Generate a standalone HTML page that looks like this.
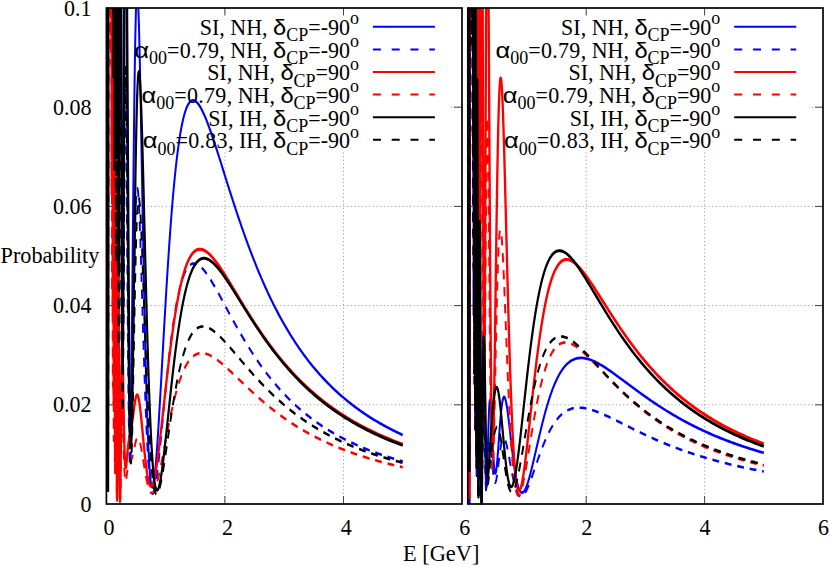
<!DOCTYPE html>
<html><head><meta charset="utf-8"><title>Probability</title>
<style>html,body{margin:0;padding:0;background:#fff}svg{display:block}</style></head>
<body>
<svg width="830" height="567" viewBox="0 0 830 567">
<style>
text{font-family:"Liberation Serif",serif;font-size:22px;fill:#000}
.gk{font-family:"Liberation Sans",sans-serif;font-size:20.8px;stroke:#000;stroke-width:.05px}
.sb{font-size:18px}
.sp{font-size:18px}
.ga{font-family:"Liberation Sans",sans-serif;font-size:20.6px;stroke:#000;stroke-width:.04px}
.g{stroke:#a0a0a0;stroke-width:1;stroke-dasharray:1.2 2.5}
.t{stroke:#444;stroke-width:1}
</style>
<rect width="830" height="567" fill="#fff"/>
<text x="91.5" y="478.13" transform="scale(1 1.07)" text-anchor="end">0</text>
<text x="91.5" y="385.42" transform="scale(1 1.07)" text-anchor="end">0.02</text>
<text x="91.5" y="292.71" transform="scale(1 1.07)" text-anchor="end">0.04</text>
<text x="91.5" y="200.00" transform="scale(1 1.07)" text-anchor="end">0.06</text>
<text x="91.5" y="107.29" transform="scale(1 1.07)" text-anchor="end">0.08</text>
<text x="91.5" y="14.58" transform="scale(1 1.07)" text-anchor="end">0.1</text>
<text x="109.1" y="499.91" transform="scale(1 1.07)" text-anchor="middle">0</text>
<text x="227.6" y="499.91" transform="scale(1 1.07)" text-anchor="middle">2</text>
<text x="346.2" y="499.91" transform="scale(1 1.07)" text-anchor="middle">4</text>
<text x="464.7" y="499.91" transform="scale(1 1.07)" text-anchor="middle">6</text>
<text x="586.7" y="499.91" transform="scale(1 1.07)" text-anchor="middle">2</text>
<text x="705.1" y="499.91" transform="scale(1 1.07)" text-anchor="middle">4</text>
<text x="823.5" y="499.91" transform="scale(1 1.07)" text-anchor="middle">6</text>
<text x="0.6" y="246.26" transform="scale(1 1.07)" style="font-size:22.2px">Probability</text>
<text x="402.9" y="524.58" transform="scale(1 1.07)" style="font-size:22.4px">E [GeV]</text>
<line x1="224.9" y1="8.0" x2="224.9" y2="504.0" class="g"/>
<line x1="343.5" y1="8.0" x2="343.5" y2="504.0" class="g"/>
<line x1="106.4" y1="404.8" x2="462.0" y2="404.8" class="g"/>
<line x1="106.4" y1="305.6" x2="462.0" y2="305.6" class="g"/>
<line x1="106.4" y1="206.4" x2="462.0" y2="206.4" class="g"/>
<line x1="106.4" y1="107.2" x2="462.0" y2="107.2" class="g"/>
<line x1="224.9" y1="504.0" x2="224.9" y2="496.0" class="t"/>
<line x1="224.9" y1="8.0" x2="224.9" y2="16.0" class="t"/>
<line x1="343.5" y1="504.0" x2="343.5" y2="496.0" class="t"/>
<line x1="343.5" y1="8.0" x2="343.5" y2="16.0" class="t"/>
<line x1="106.4" y1="404.8" x2="114.4" y2="404.8" class="t"/>
<line x1="462.0" y1="404.8" x2="454.0" y2="404.8" class="t"/>
<line x1="106.4" y1="305.6" x2="114.4" y2="305.6" class="t"/>
<line x1="462.0" y1="305.6" x2="454.0" y2="305.6" class="t"/>
<line x1="106.4" y1="206.4" x2="114.4" y2="206.4" class="t"/>
<line x1="462.0" y1="206.4" x2="454.0" y2="206.4" class="t"/>
<line x1="106.4" y1="107.2" x2="114.4" y2="107.2" class="t"/>
<line x1="462.0" y1="107.2" x2="454.0" y2="107.2" class="t"/>
<rect x="106.4" y="15.5" width="341.6" height="135.7" fill="#fff"/>
<line x1="586.2" y1="8.0" x2="586.2" y2="504.0" class="g"/>
<line x1="704.6" y1="8.0" x2="704.6" y2="504.0" class="g"/>
<line x1="467.8" y1="404.8" x2="823.0" y2="404.8" class="g"/>
<line x1="467.8" y1="305.6" x2="823.0" y2="305.6" class="g"/>
<line x1="467.8" y1="206.4" x2="823.0" y2="206.4" class="g"/>
<line x1="467.8" y1="107.2" x2="823.0" y2="107.2" class="g"/>
<line x1="586.2" y1="504.0" x2="586.2" y2="496.0" class="t"/>
<line x1="586.2" y1="8.0" x2="586.2" y2="16.0" class="t"/>
<line x1="704.6" y1="504.0" x2="704.6" y2="496.0" class="t"/>
<line x1="704.6" y1="8.0" x2="704.6" y2="16.0" class="t"/>
<line x1="467.8" y1="404.8" x2="475.8" y2="404.8" class="t"/>
<line x1="823.0" y1="404.8" x2="815.0" y2="404.8" class="t"/>
<line x1="467.8" y1="305.6" x2="475.8" y2="305.6" class="t"/>
<line x1="823.0" y1="305.6" x2="815.0" y2="305.6" class="t"/>
<line x1="467.8" y1="206.4" x2="475.8" y2="206.4" class="t"/>
<line x1="823.0" y1="206.4" x2="815.0" y2="206.4" class="t"/>
<line x1="467.8" y1="107.2" x2="475.8" y2="107.2" class="t"/>
<line x1="823.0" y1="107.2" x2="815.0" y2="107.2" class="t"/>
<rect x="467.8" y="15.5" width="341.2" height="135.7" fill="#fff"/>
<g>
<path d="M108.00,364.15L108.18,232.29L108.22,5.93M114.34,5.93L114.34,10.25L114.37,5.93M115.72,5.93L115.76,42.07L115.88,101.68L116.00,110.91L116.12,73.84L116.23,5.93M117.78,5.93L117.90,77.20L118.02,134.72L118.13,174.75L118.25,196.15L118.37,199.13L118.49,185.06L118.61,156.23L118.73,115.54L118.85,66.29L118.96,11.93L118.98,5.93M121.02,5.93L121.10,36.60L121.22,79.22L121.34,119.05L121.45,155.25L121.57,187.19L121.69,214.37L121.81,236.45L121.93,253.26L122.05,264.76L122.16,271.01L122.28,272.22L122.40,268.66L122.52,260.70L122.64,248.75L122.76,233.29L122.88,214.81L122.99,193.83L123.11,170.86L123.23,146.44L123.35,121.05L123.47,95.19L123.59,69.30L123.71,43.81L123.82,19.09L123.89,5.93M126.71,5.93L126.79,18.15L126.91,36.38L127.02,54.79L127.14,73.26L127.26,91.65L127.38,109.84L127.50,127.74L127.62,145.22L127.74,162.21L127.85,178.62L127.97,194.37L128.09,209.39L128.21,223.64L128.33,237.05L128.45,249.59L128.57,261.23L128.68,271.94L128.80,281.69L128.92,290.48L129.04,298.30L129.16,305.15L129.28,311.03L129.40,315.96L129.51,319.94L129.63,322.99L129.75,325.14L129.87,326.42L129.99,326.84L130.11,326.44L130.23,325.26L130.34,323.33L130.46,320.68L130.58,317.35L130.70,313.38L130.82,308.82L130.94,303.69L131.05,298.05L131.17,291.92L131.29,285.36L131.41,278.40L131.53,271.08L131.65,263.43L131.77,255.51L131.88,247.34L132.00,238.96L132.12,230.41L132.24,221.71L132.36,212.91L132.48,204.04L132.60,195.12L132.71,186.18L132.83,177.26L132.95,168.37L133.07,159.55L133.19,150.82L133.31,142.19L133.43,133.70L133.54,125.35L133.66,117.17L133.78,109.18L133.90,101.39L134.02,93.81L134.14,86.46L134.26,79.35L134.37,72.49L134.49,65.89L134.61,59.56L134.73,53.51L134.85,47.73L134.97,42.25L135.09,37.05L135.20,32.15L135.32,27.55L135.44,23.25L135.56,19.26L135.68,15.56L135.80,12.17L135.91,9.07L136.03,6.28L136.05,5.93M138.35,5.93L138.40,6.97L138.52,9.38L138.64,11.98L138.76,14.75L138.88,17.68L139.00,20.76L139.12,23.99L139.23,27.37L139.35,30.88L139.47,34.52L139.59,38.27L139.71,42.14L139.83,46.12L139.94,50.20L140.06,54.38L140.18,58.64L140.30,62.98L140.42,67.40L140.54,71.89L140.66,76.44L140.77,81.04L140.89,85.70L141.01,90.41L141.13,95.16L141.25,99.94L141.37,104.75L141.49,109.59L141.60,114.45L141.72,119.32L141.84,124.21L141.96,129.10L142.08,134.00L142.20,138.89L142.32,143.78L142.43,148.66L142.55,153.53L142.67,158.38L142.79,163.21L142.91,168.02L143.03,172.80L143.15,177.55L143.26,182.27L143.38,186.96L143.50,191.60L143.62,196.21L143.74,200.77L143.86,205.29L143.98,209.76L144.09,214.18L144.21,218.55L144.33,222.87L144.45,227.13L144.57,231.34L144.69,235.49L144.80,239.58L144.92,243.60L145.04,247.57L145.16,251.47L145.28,255.30L145.40,259.08L145.52,262.78L145.63,266.42L145.75,269.99L145.87,273.49L145.99,276.92L146.11,280.28L146.23,283.57L146.35,286.79L146.46,289.93L146.58,293.01L146.70,296.01L146.82,298.95L146.94,301.81L147.06,304.59L147.18,307.31L147.29,309.95L147.41,312.52L147.53,315.02L147.65,317.45L147.77,319.80L147.89,322.09L148.01,324.30L148.12,326.44L148.24,328.51L148.36,330.51L148.48,332.44L148.60,334.30L148.72,336.09L148.83,337.82L148.95,339.47L149.07,341.06L149.19,342.59L149.31,344.04L149.43,345.43L149.55,346.76L149.66,348.02L149.78,349.22L149.90,350.35L150.02,351.42L150.14,352.43L150.26,353.38L150.38,354.27L150.49,355.10L150.61,355.87L150.73,356.59L150.85,357.24L150.97,357.85L151.09,358.39L151.21,358.88L151.32,359.32L151.44,359.70L151.56,360.03L151.68,360.31L151.80,360.54L151.92,360.72L152.04,360.85L152.15,360.93L152.27,360.96L152.39,360.95L152.51,360.89L152.63,360.79L152.75,360.64L152.87,360.45L152.98,360.22L153.10,359.94L153.22,359.63L153.34,359.27L153.46,358.87L153.58,358.44L153.69,357.97L153.81,357.46L153.93,356.91L154.05,356.33L154.17,355.71L154.29,355.06L154.41,354.38L154.52,353.66L154.64,352.92L154.76,352.14L154.88,351.33L155.00,350.49L155.12,349.62L155.24,348.73L155.35,347.80L155.47,346.86L155.59,345.88L155.71,344.88L155.83,343.85L155.95,342.80L156.07,341.73L156.18,340.63L156.30,339.51L156.42,338.37L156.54,337.21L156.66,336.03L156.78,334.83L156.90,333.61L157.01,332.37L157.13,331.12L157.25,329.84L157.37,328.55L157.49,327.25L157.61,325.92L157.72,324.59L157.84,323.24L157.96,321.87L158.08,320.49L158.20,319.10L158.32,317.69L158.44,316.28L158.55,314.85L158.67,313.41L158.79,311.96L158.91,310.50L159.03,309.03L159.15,307.55L159.27,306.06L159.38,304.56L159.50,303.06L159.62,301.55L159.74,300.03L160.93,285.11L162.11,269.40L163.30,253.68L164.48,238.19L165.67,223.12L166.85,208.61L168.04,194.76L169.22,181.67L170.41,169.38L171.59,157.92L172.78,147.31L173.96,137.54L175.15,128.61L176.33,120.50L177.52,113.18L178.71,106.62L179.89,100.79L181.08,95.65L182.26,91.16L183.45,87.30L184.63,84.01L185.82,81.27L187.00,79.04L188.19,77.27L189.37,75.95L190.56,75.03L191.74,74.49L192.93,74.29L194.11,74.42L195.30,74.83L196.49,75.51L197.67,76.44L198.86,77.59L200.04,78.94L201.23,80.48L202.41,82.18L203.60,84.03L204.78,86.02L205.97,88.13L207.15,90.34L208.34,92.65L209.52,95.05L210.71,97.52L211.89,100.05L213.08,102.64L214.27,105.28L215.45,107.96L216.64,110.67L217.82,113.41L219.01,116.17L220.19,118.94L221.38,121.73L222.56,124.53L223.75,127.32L224.93,130.12L226.12,132.91L227.30,135.70L228.49,138.47L229.67,141.23L230.86,143.98L232.05,146.71L233.23,149.43L234.42,152.12L235.60,154.79L236.79,157.44L237.97,160.06L239.16,162.66L240.34,165.23L241.53,167.78L242.71,170.29L243.90,172.78L245.08,175.24L246.27,177.68L247.45,180.08L248.64,182.45L249.83,184.80L251.01,187.11L252.20,189.40L253.38,191.65L254.57,193.87L255.75,196.07L256.94,198.23L258.12,200.37L259.31,202.47L260.49,204.55L261.68,206.59L262.86,208.61L264.05,210.60L265.23,212.56L266.42,214.49L267.61,216.39L268.79,218.27L269.98,220.11L271.16,221.94L272.35,223.73L273.53,225.50L274.72,227.24L275.90,228.96L277.09,230.65L278.27,232.31L279.46,233.95L280.64,235.57L281.83,237.16L283.01,238.73L284.20,240.27L285.39,241.79L286.57,243.29L287.76,244.77L288.94,246.23L290.13,247.66L291.31,249.07L292.50,250.46L293.68,251.83L294.87,253.18L296.05,254.51L297.24,255.82L298.42,257.11L299.61,258.39L300.79,259.64L301.98,260.87L303.17,262.09L304.35,263.29L305.54,264.47L306.72,265.64L307.91,266.78L309.09,267.91L310.28,269.03L311.46,270.13L312.65,271.21L313.83,272.28L315.02,273.33L316.20,274.36L317.39,275.39L318.57,276.39L319.76,277.39L320.95,278.36L322.13,279.33L323.32,280.28L324.50,281.22L325.69,282.14L326.87,283.06L328.06,283.96L329.24,284.84L330.43,285.72L331.61,286.58L332.80,287.43L333.98,288.27L335.17,289.10L336.35,289.91L337.54,290.72L338.73,291.51L339.91,292.29L341.10,293.07L342.28,293.83L343.47,294.58L344.65,295.32L345.84,296.06L347.02,296.78L348.21,297.49L349.39,298.20L350.58,298.89L351.76,299.58L352.95,300.25L354.13,300.92L355.32,301.58L356.51,302.23L357.69,302.87L358.88,303.51L360.06,304.13L361.25,304.75L362.43,305.36L363.62,305.96L364.80,306.56L365.99,307.14L367.17,307.72L368.36,308.29L369.54,308.86L370.73,309.42L371.91,309.97L373.10,310.51L374.29,311.05L375.47,311.58L376.66,312.11L377.84,312.63L379.03,313.14L380.21,313.64L381.40,314.14L382.58,314.64L383.77,315.13L384.95,315.61L386.14,316.08L387.32,316.55L388.51,317.02L389.69,317.48L390.88,317.93L392.07,318.38L393.25,318.83L394.44,319.26L395.62,319.70L396.81,320.13L397.99,320.55L399.18,320.97L400.36,321.38L401.55,321.79L402.73,322.19" fill="none" stroke="#0000ff" stroke-width="2.00" stroke-linejoin="round" transform="scale(1 1.35)"/>
<text x="359.0" y="32.71" transform="scale(1 1.07)" text-anchor="end" class="lt">SI, NH, <tspan class="gk" textLength="13.2" lengthAdjust="spacingAndGlyphs">δ</tspan><tspan class="sb" dy="6.07">CP</tspan><tspan dy="-6.07">=-90</tspan><tspan class="sp" dy="-9.91">o</tspan></text><line x1="372.9" y1="26.8" x2="434.9" y2="26.8" stroke="#0000ff" stroke-width="2"/>
<path d="M108.00,364.15L108.18,292.22L108.27,5.93M113.13,5.93L113.16,40.54L113.27,83.59L113.38,5.93M114.15,5.93L114.22,81.78L114.34,145.25L114.46,138.67L114.58,72.99L114.66,5.93M115.53,5.93L115.65,91.81L115.76,160.48L115.88,201.20L116.00,210.81L116.12,191.28L116.24,148.46L116.36,90.69L116.48,27.20L116.52,5.93M117.49,5.93L117.54,27.70L117.66,82.48L117.78,134.78L117.90,181.04L118.02,218.55L118.13,245.52L118.25,261.09L118.37,265.21L118.49,258.62L118.61,242.59L118.73,218.86L118.85,189.41L118.96,156.33L119.08,121.71L119.20,87.49L119.32,55.42L119.44,26.94L119.54,5.93M120.41,5.93L120.51,22.74L120.62,46.36L120.74,72.25L120.86,99.55L120.98,127.42L121.10,155.10L121.22,181.85L121.34,207.08L121.45,230.23L121.57,250.89L121.69,268.72L121.81,283.48L121.93,295.03L122.05,303.33L122.16,308.39L122.28,310.30L122.40,309.21L122.52,305.34L122.64,298.93L122.76,290.24L122.88,279.58L122.99,267.26L123.11,253.59L123.23,238.89L123.35,223.48L123.47,207.65L123.59,191.69L123.71,175.86L123.82,160.40L123.94,145.54L124.06,131.46L124.18,118.34L124.30,106.33L124.42,95.53L124.54,86.05L124.65,77.94L124.77,71.27L124.89,66.06L125.01,62.30L125.13,60.00L125.25,59.11L125.37,59.61L125.48,61.43L125.60,64.52L125.72,68.79L125.84,74.16L125.96,80.55L126.08,87.86L126.20,96.01L126.31,104.88L126.43,114.39L126.55,124.43L126.67,134.92L126.79,145.75L126.91,156.84L127.02,168.09L127.14,179.43L127.26,190.77L127.38,202.04L127.50,213.17L127.62,224.10L127.74,234.76L127.85,245.10L127.97,255.07L128.09,264.63L128.21,273.74L128.33,282.37L128.45,290.48L128.57,298.06L128.68,305.08L128.80,311.54L128.92,317.41L129.04,322.69L129.16,327.39L129.28,331.49L129.40,335.01L129.51,337.95L129.63,340.31L129.75,342.12L129.87,343.38L129.99,344.11L130.11,344.32L130.23,344.04L130.34,343.28L130.46,342.08L130.58,340.43L130.70,338.38L130.82,335.95L130.94,333.15L131.05,330.01L131.17,326.56L131.29,322.83L131.41,318.82L131.53,314.58L131.65,310.11L131.77,305.46L131.88,300.63L132.00,295.65L132.12,290.55L132.24,285.34L132.36,280.04L132.48,274.68L132.60,269.27L132.71,263.83L132.83,258.38L132.95,252.94L133.07,247.52L133.19,242.14L133.31,236.80L133.43,231.53L133.54,226.34L133.66,221.24L133.78,216.23L133.90,211.34L134.02,206.57L134.14,201.92L134.26,197.41L134.37,193.04L134.49,188.82L134.61,184.76L134.73,180.86L134.85,177.12L134.97,173.56L135.09,170.16L135.20,166.94L135.32,163.90L135.44,161.04L135.56,158.36L135.68,155.86L135.80,153.54L135.91,151.41L136.03,149.45L136.15,147.68L136.27,146.08L136.39,144.67L136.51,143.43L136.63,142.36L136.74,141.47L136.86,140.74L136.98,140.19L137.10,139.79L137.22,139.56L137.34,139.48L137.46,139.56L137.57,139.78L137.69,140.15L137.81,140.67L137.93,141.32L138.05,142.11L138.17,143.03L138.29,144.07L138.40,145.24L138.52,146.53L138.64,147.92L138.76,149.43L138.88,151.04L139.00,152.75L139.12,154.56L139.23,156.46L139.35,158.45L139.47,160.53L139.59,162.68L139.71,164.91L139.83,167.20L139.94,169.57L140.06,172.00L140.18,174.49L140.30,177.03L140.42,179.63L140.54,182.27L140.66,184.96L140.77,187.69L140.89,190.46L141.01,193.26L141.13,196.09L141.25,198.95L141.37,201.83L141.49,204.73L141.60,207.66L141.72,210.59L141.84,213.54L141.96,216.50L142.08,219.46L142.20,222.43L142.32,225.40L142.43,228.37L142.55,231.34L142.67,234.30L142.79,237.26L142.91,240.20L143.03,243.13L143.15,246.05L143.26,248.96L143.38,251.84L143.50,254.71L143.62,257.56L143.74,260.38L143.86,263.18L143.98,265.95L144.09,268.70L144.21,271.42L144.33,274.11L144.45,276.77L144.57,279.40L144.69,282.00L144.80,284.56L144.92,287.09L145.04,289.58L145.16,292.04L145.28,294.46L145.40,296.84L145.52,299.19L145.63,301.49L145.75,303.76L145.87,305.98L145.99,308.17L146.11,310.32L146.23,312.42L146.35,314.48L146.46,316.50L146.58,318.48L146.70,320.41L146.82,322.31L146.94,324.16L147.06,325.96L147.18,327.73L147.29,329.45L147.41,331.13L147.53,332.76L147.65,334.36L147.77,335.91L147.89,337.41L148.01,338.88L148.12,340.30L148.24,341.68L148.36,343.01L148.48,344.31L148.60,345.56L148.72,346.77L148.83,347.94L148.95,349.07L149.07,350.16L149.19,351.21L149.31,352.21L149.43,353.18L149.55,354.11L149.66,354.99L149.78,355.84L149.90,356.65L150.02,357.43L150.14,358.16L150.26,358.86L150.38,359.52L150.49,360.14L150.61,360.73L150.73,361.28L150.85,361.80L150.97,362.28L151.09,362.73L151.21,363.15L151.32,363.53L151.44,363.87L151.56,364.19L151.68,364.47L151.80,364.72L151.92,364.95L152.04,365.14L152.15,365.30L152.27,365.43L152.39,365.53L152.51,365.60L152.63,365.65L152.75,365.66L152.87,365.65L152.98,365.61L153.10,365.55L153.22,365.46L153.34,365.35L153.46,365.21L153.58,365.04L153.69,364.85L153.81,364.64L153.93,364.41L154.05,364.15L154.17,363.87L154.29,363.57L154.41,363.25L154.52,362.91L154.64,362.54L154.76,362.16L154.88,361.76L155.00,361.34L155.12,360.90L155.24,360.44L155.35,359.96L155.47,359.47L155.59,358.96L155.71,358.43L155.83,357.89L155.95,357.33L156.07,356.76L156.18,356.17L156.30,355.56L156.42,354.95L156.54,354.32L156.66,353.67L156.78,353.02L156.90,352.35L157.01,351.66L157.13,350.97L157.25,350.26L157.37,349.55L157.49,348.82L157.61,348.08L157.72,347.33L157.84,346.57L157.96,345.81L158.08,345.03L158.20,344.24L158.32,343.45L158.44,342.65L158.55,341.84L158.67,341.02L158.79,340.19L158.91,339.36L159.03,338.52L159.15,337.67L159.27,336.82L159.38,335.96L159.50,335.10L159.62,334.23L159.74,333.35L160.93,324.86L162.11,315.69L163.30,306.44L164.48,297.26L165.67,288.27L166.85,279.57L168.04,271.22L169.22,263.29L170.41,255.81L171.59,248.80L172.78,242.28L173.96,236.26L175.15,230.71L176.33,225.65L177.52,221.06L178.71,216.92L179.89,213.22L181.08,209.93L182.26,207.03L183.45,204.50L184.63,202.33L185.82,200.48L187.00,198.95L188.19,197.70L189.37,196.72L190.56,195.99L191.74,195.49L192.93,195.21L194.11,195.12L195.30,195.21L196.49,195.47L197.67,195.89L198.86,196.44L200.04,197.12L201.23,197.91L202.41,198.82L203.60,199.81L204.78,200.90L205.97,202.06L207.15,203.29L208.34,204.58L209.52,205.93L210.71,207.33L211.89,208.77L213.08,210.25L214.27,211.76L215.45,213.30L216.64,214.86L217.82,216.44L219.01,218.04L220.19,219.66L221.38,221.28L222.56,222.91L223.75,224.54L224.93,226.18L226.12,227.81L227.30,229.45L228.49,231.08L229.67,232.70L230.86,234.32L232.05,235.93L233.23,237.53L234.42,239.13L235.60,240.71L236.79,242.27L237.97,243.83L239.16,245.37L240.34,246.90L241.53,248.41L242.71,249.91L243.90,251.39L245.08,252.86L246.27,254.31L247.45,255.74L248.64,257.15L249.83,258.55L251.01,259.94L252.20,261.30L253.38,262.65L254.57,263.98L255.75,265.29L256.94,266.59L258.12,267.87L259.31,269.13L260.49,270.38L261.68,271.61L262.86,272.82L264.05,274.01L265.23,275.19L266.42,276.35L267.61,277.49L268.79,278.62L269.98,279.73L271.16,280.83L272.35,281.91L273.53,282.98L274.72,284.03L275.90,285.06L277.09,286.08L278.27,287.09L279.46,288.08L280.64,289.05L281.83,290.01L283.01,290.96L284.20,291.89L285.39,292.81L286.57,293.72L287.76,294.61L288.94,295.49L290.13,296.36L291.31,297.22L292.50,298.06L293.68,298.89L294.87,299.71L296.05,300.51L297.24,301.31L298.42,302.09L299.61,302.86L300.79,303.62L301.98,304.37L303.17,305.11L304.35,305.83L305.54,306.55L306.72,307.26L307.91,307.95L309.09,308.64L310.28,309.32L311.46,309.98L312.65,310.64L313.83,311.29L315.02,311.93L316.20,312.56L317.39,313.18L318.57,313.79L319.76,314.40L320.95,314.99L322.13,315.58L323.32,316.16L324.50,316.73L325.69,317.29L326.87,317.85L328.06,318.40L329.24,318.94L330.43,319.47L331.61,320.00L332.80,320.51L333.98,321.02L335.17,321.53L336.35,322.03L337.54,322.52L338.73,323.00L339.91,323.48L341.10,323.95L342.28,324.42L343.47,324.88L344.65,325.33L345.84,325.77L347.02,326.22L348.21,326.65L349.39,327.08L350.58,327.50L351.76,327.92L352.95,328.34L354.13,328.74L355.32,329.15L356.51,329.54L357.69,329.94L358.88,330.32L360.06,330.71L361.25,331.08L362.43,331.46L363.62,331.83L364.80,332.19L365.99,332.55L367.17,332.90L368.36,333.25L369.54,333.60L370.73,333.94L371.91,334.28L373.10,334.61L374.29,334.94L375.47,335.26L376.66,335.59L377.84,335.90L379.03,336.22L380.21,336.53L381.40,336.83L382.58,337.13L383.77,337.43L384.95,337.73L386.14,338.02L387.32,338.31L388.51,338.59L389.69,338.88L390.88,339.15L392.07,339.43L393.25,339.70L394.44,339.97L395.62,340.23L396.81,340.50L397.99,340.76L399.18,341.01L400.36,341.27L401.55,341.52L402.73,341.77" fill="none" stroke="#0000ff" stroke-width="1.90" stroke-dasharray="6.8 5.8" stroke-linejoin="round" transform="scale(1 1.35)"/>
<text x="359.0" y="53.83" transform="scale(1 1.07)" text-anchor="end" class="lt"><tspan class="ga" textLength="14.8" lengthAdjust="spacingAndGlyphs">α</tspan><tspan class="sb" dy="6.07">00</tspan><tspan dy="-6.07" letter-spacing=".3">=0.79</tspan>, NH, <tspan class="gk" textLength="13.2" lengthAdjust="spacingAndGlyphs">δ</tspan><tspan class="sb" dy="6.07">CP</tspan><tspan dy="-6.07">=-90</tspan><tspan class="sp" dy="-9.91">o</tspan></text><line x1="372.9" y1="49.4" x2="434.9" y2="49.4" stroke="#0000ff" stroke-width="2" stroke-dasharray="8 10.8"/>
<path d="M108.00,364.15L108.05,5.93M111.94,5.93L111.97,96.26L112.09,118.20L112.14,5.93M112.61,5.93L112.68,158.69L112.80,233.29L112.92,128.28L113.00,5.93M113.45,5.93L113.51,97.39L113.63,238.63L113.75,298.87L113.87,267.87L113.99,172.96L114.10,60.20L114.18,5.93M114.52,5.93L114.58,43.35L114.70,141.40L114.82,236.61L114.93,307.74L115.05,342.60L115.17,339.07L115.29,303.46L115.41,247.53L115.53,185.07L115.65,128.85L115.76,88.58L115.88,69.80L116.00,73.77L116.12,98.14L116.24,137.91L116.36,186.72L116.48,237.91L116.59,285.46L116.71,324.65L116.83,352.37L116.95,367.19L117.07,369.22L117.19,359.82L117.31,341.27L117.42,316.37L117.54,288.08L117.66,259.25L117.78,232.39L117.90,209.51L118.02,192.04L118.13,180.82L118.25,176.15L118.37,177.85L118.49,185.31L118.61,197.68L118.73,213.88L118.85,232.77L118.96,253.17L119.08,273.99L119.20,294.23L119.32,313.04L119.44,329.77L119.56,343.90L119.68,355.13L119.79,363.30L119.91,368.40L120.03,370.55L120.15,369.97L120.27,366.96L120.39,361.87L120.51,355.09L120.62,347.02L120.74,338.05L120.86,328.57L120.98,318.91L121.10,309.41L121.22,300.32L121.34,291.88L121.45,284.27L121.57,277.63L121.69,272.06L121.81,267.62L121.93,264.31L122.05,262.14L122.16,261.06L122.28,261.02L122.40,261.94L122.52,263.72L122.64,266.27L122.76,269.48L122.88,273.23L122.99,277.43L123.11,281.97L123.23,286.75L123.35,291.67L123.47,296.64L123.59,301.59L123.71,306.45L123.82,311.15L123.94,315.65L124.06,319.91L124.18,323.88L124.30,327.54L124.42,330.88L124.54,333.88L124.65,336.54L124.77,338.86L124.89,340.84L125.01,342.50L125.13,343.84L125.25,344.88L125.37,345.65L125.48,346.16L125.60,346.43L125.72,346.48L125.84,346.34L125.96,346.03L126.08,345.57L126.20,344.98L126.31,344.27L126.43,343.48L126.55,342.62L126.67,341.70L126.79,340.74L126.91,339.75L127.02,338.75L127.14,337.74L127.26,336.74L127.38,335.76L127.50,334.79L127.62,333.86L127.74,332.95L127.85,332.08L127.97,331.25L128.09,330.45L128.21,329.70L128.33,328.98L128.45,328.30L128.57,327.66L128.68,327.06L128.80,326.49L128.92,325.95L129.04,325.43L129.16,324.95L129.28,324.48L129.40,324.03L129.51,323.60L129.63,323.19L129.75,322.78L129.87,322.38L129.99,321.98L130.11,321.58L130.23,321.18L130.34,320.78L130.46,320.37L130.58,319.95L130.70,319.52L130.82,319.08L130.94,318.63L131.05,318.16L131.17,317.68L131.29,317.18L131.41,316.66L131.53,316.13L131.65,315.58L131.77,315.02L131.88,314.44L132.00,313.85L132.12,313.24L132.24,312.61L132.36,311.98L132.48,311.33L132.60,310.67L132.71,310.00L132.83,309.33L132.95,308.65L133.07,307.96L133.19,307.27L133.31,306.58L133.43,305.89L133.54,305.19L133.66,304.51L133.78,303.83L133.90,303.15L134.02,302.48L134.14,301.83L134.26,301.18L134.37,300.55L134.49,299.93L134.61,299.33L134.73,298.75L134.85,298.19L134.97,297.65L135.09,297.12L135.20,296.63L135.32,296.15L135.44,295.70L135.56,295.28L135.68,294.89L135.80,294.52L135.91,294.18L136.03,293.87L136.15,293.60L136.27,293.35L136.39,293.14L136.51,292.95L136.63,292.80L136.74,292.68L136.86,292.60L136.98,292.54L137.10,292.53L137.22,292.54L137.34,292.59L137.46,292.67L137.57,292.78L137.69,292.92L137.81,293.10L137.93,293.31L138.05,293.55L138.17,293.83L138.29,294.13L138.40,294.47L138.52,294.83L138.64,295.23L138.76,295.65L138.88,296.10L139.00,296.58L139.12,297.09L139.23,297.62L139.35,298.18L139.47,298.76L139.59,299.37L139.71,300.00L139.83,300.65L139.94,301.32L140.06,302.01L140.18,302.73L140.30,303.46L140.42,304.21L140.54,304.98L140.66,305.76L140.77,306.56L140.89,307.37L141.01,308.20L141.13,309.04L141.25,309.89L141.37,310.75L141.49,311.63L141.60,312.51L141.72,313.40L141.84,314.30L141.96,315.20L142.08,316.11L142.20,317.03L142.32,317.95L142.43,318.87L142.55,319.79L142.67,320.72L142.79,321.65L142.91,322.58L143.03,323.50L143.15,324.43L143.26,325.36L143.38,326.28L143.50,327.20L143.62,328.11L143.74,329.02L143.86,329.93L143.98,330.82L144.09,331.72L144.21,332.60L144.33,333.48L144.45,334.35L144.57,335.21L144.69,336.06L144.80,336.90L144.92,337.74L145.04,338.56L145.16,339.37L145.28,340.17L145.40,340.95L145.52,341.73L145.63,342.49L145.75,343.24L145.87,343.97L145.99,344.69L146.11,345.40L146.23,346.10L146.35,346.77L146.46,347.44L146.58,348.09L146.70,348.72L146.82,349.34L146.94,349.94L147.06,350.52L147.18,351.09L147.29,351.65L147.41,352.18L147.53,352.70L147.65,353.20L147.77,353.69L147.89,354.16L148.01,354.61L148.12,355.05L148.24,355.46L148.36,355.86L148.48,356.25L148.60,356.61L148.72,356.96L148.83,357.29L148.95,357.60L149.07,357.90L149.19,358.17L149.31,358.43L149.43,358.67L149.55,358.90L149.66,359.11L149.78,359.30L149.90,359.47L150.02,359.63L150.14,359.76L150.26,359.89L150.38,359.99L150.49,360.08L150.61,360.15L150.73,360.20L150.85,360.24L150.97,360.26L151.09,360.26L151.21,360.25L151.32,360.22L151.44,360.18L151.56,360.12L151.68,360.04L151.80,359.95L151.92,359.84L152.04,359.72L152.15,359.58L152.27,359.43L152.39,359.26L152.51,359.08L152.63,358.88L152.75,358.67L152.87,358.45L152.98,358.21L153.10,357.95L153.22,357.69L153.34,357.41L153.46,357.11L153.58,356.81L153.69,356.49L153.81,356.15L153.93,355.81L154.05,355.45L154.17,355.08L154.29,354.70L154.41,354.30L154.52,353.90L154.64,353.48L154.76,353.05L154.88,352.61L155.00,352.16L155.12,351.70L155.24,351.23L155.35,350.75L155.47,350.25L155.59,349.75L155.71,349.24L155.83,348.72L155.95,348.19L156.07,347.65L156.18,347.10L156.30,346.54L156.42,345.97L156.54,345.40L156.66,344.81L156.78,344.22L156.90,343.62L157.01,343.01L157.13,342.40L157.25,341.78L157.37,341.15L157.49,340.51L157.61,339.87L157.72,339.22L157.84,338.56L157.96,337.89L158.08,337.23L158.20,336.55L158.32,335.87L158.44,335.18L158.55,334.49L158.67,333.79L158.79,333.09L158.91,332.38L159.03,331.66L159.15,330.95L159.27,330.22L159.38,329.50L159.50,328.76L159.62,328.03L159.74,327.29L160.93,319.54L162.11,311.69L163.30,303.70L164.48,295.69L165.67,287.74L166.85,279.94L168.04,272.33L169.22,264.97L170.41,257.90L171.59,251.15L172.78,244.73L173.96,238.67L175.15,232.98L176.33,227.64L177.52,222.68L178.71,218.07L179.89,213.83L181.08,209.93L182.26,206.36L183.45,203.13L184.63,200.20L185.82,197.58L187.00,195.24L188.19,193.18L189.37,191.37L190.56,189.81L191.74,188.48L192.93,187.38L194.11,186.47L195.30,185.76L196.49,185.23L197.67,184.87L198.86,184.67L200.04,184.62L201.23,184.70L202.41,184.92L203.60,185.25L204.78,185.69L205.97,186.23L207.15,186.87L208.34,187.59L209.52,188.40L210.71,189.27L211.89,190.22L213.08,191.22L214.27,192.28L215.45,193.40L216.64,194.56L217.82,195.76L219.01,197.00L220.19,198.27L221.38,199.57L222.56,200.90L223.75,202.25L224.93,203.63L226.12,205.02L227.30,206.43L228.49,207.85L229.67,209.28L230.86,210.72L232.05,212.16L233.23,213.62L234.42,215.07L235.60,216.53L236.79,217.98L237.97,219.44L239.16,220.90L240.34,222.35L241.53,223.80L242.71,225.24L243.90,226.68L245.08,228.11L246.27,229.53L247.45,230.94L248.64,232.35L249.83,233.74L251.01,235.13L252.20,236.51L253.38,237.87L254.57,239.23L255.75,240.57L256.94,241.91L258.12,243.23L259.31,244.54L260.49,245.83L261.68,247.12L262.86,248.39L264.05,249.65L265.23,250.89L266.42,252.13L267.61,253.35L268.79,254.56L269.98,255.75L271.16,256.93L272.35,258.10L273.53,259.26L274.72,260.40L275.90,261.53L277.09,262.65L278.27,263.75L279.46,264.84L280.64,265.92L281.83,266.99L283.01,268.04L284.20,269.08L285.39,270.11L286.57,271.13L287.76,272.13L288.94,273.12L290.13,274.10L291.31,275.07L292.50,276.03L293.68,276.97L294.87,277.91L296.05,278.83L297.24,279.74L298.42,280.64L299.61,281.53L300.79,282.40L301.98,283.27L303.17,284.13L304.35,284.97L305.54,285.81L306.72,286.63L307.91,287.45L309.09,288.25L310.28,289.05L311.46,289.83L312.65,290.61L313.83,291.37L315.02,292.13L316.20,292.88L317.39,293.61L318.57,294.34L319.76,295.06L320.95,295.77L322.13,296.48L323.32,297.17L324.50,297.86L325.69,298.53L326.87,299.20L328.06,299.86L329.24,300.52L330.43,301.16L331.61,301.80L332.80,302.43L333.98,303.05L335.17,303.66L336.35,304.27L337.54,304.87L338.73,305.46L339.91,306.05L341.10,306.63L342.28,307.20L343.47,307.76L344.65,308.32L345.84,308.87L347.02,309.42L348.21,309.96L349.39,310.49L350.58,311.02L351.76,311.54L352.95,312.05L354.13,312.56L355.32,313.06L356.51,313.56L357.69,314.05L358.88,314.53L360.06,315.01L361.25,315.48L362.43,315.95L363.62,316.42L364.80,316.87L365.99,317.33L367.17,317.77L368.36,318.22L369.54,318.65L370.73,319.09L371.91,319.51L373.10,319.94L374.29,320.36L375.47,320.77L376.66,321.18L377.84,321.58L379.03,321.98L380.21,322.38L381.40,322.77L382.58,323.16L383.77,323.54L384.95,323.92L386.14,324.29L387.32,324.66L388.51,325.03L389.69,325.39L390.88,325.75L392.07,326.11L393.25,326.46L394.44,326.80L395.62,327.15L396.81,327.49L397.99,327.82L399.18,328.16L400.36,328.49L401.55,328.81L402.73,329.14" fill="none" stroke="#ff0000" stroke-width="2.35" stroke-linejoin="round" transform="scale(1 1.35)"/>
<text x="359.0" y="75.05" transform="scale(1 1.07)" text-anchor="end" class="lt">SI, NH, <tspan class="gk" textLength="13.2" lengthAdjust="spacingAndGlyphs">δ</tspan><tspan class="sb" dy="6.07">CP</tspan><tspan dy="-6.07">=90</tspan><tspan class="sp" dy="-9.91">o</tspan></text><line x1="372.9" y1="72.0" x2="434.9" y2="72.0" stroke="#ff0000" stroke-width="2"/>
<path d="M108.00,364.15L108.08,5.93M110.54,5.93L110.55,33.33L110.56,5.93M110.90,5.93L110.90,22.38L111.02,47.66L111.04,5.93M111.34,5.93L111.38,110.32L111.50,144.19L111.57,5.93M111.86,5.93L111.97,197.39L112.09,216.38L112.21,64.34L112.26,5.93M112.50,5.93L112.56,88.27L112.68,236.34L112.80,286.17L112.92,223.31L113.04,109.79L113.16,26.73L113.27,22.26L113.39,92.96L113.51,197.84L113.63,287.00L113.75,326.39L113.87,308.77L113.99,250.54L114.10,180.20L114.22,125.43L114.34,103.90L114.46,119.82L114.58,165.58L114.70,226.45L114.82,286.09L114.93,331.09L115.05,353.66L115.17,352.25L115.29,330.65L115.41,296.11L115.53,257.19L115.65,221.92L115.76,196.43L115.88,184.27L116.00,186.32L116.12,201.15L116.24,225.72L116.36,256.05L116.48,287.98L116.59,317.75L116.71,342.37L116.83,359.87L116.95,369.32L117.07,370.76L117.19,365.05L117.31,353.58L117.42,338.11L117.54,320.48L117.66,302.50L117.78,285.72L117.90,271.42L118.02,260.50L118.13,253.49L118.25,250.58L118.37,251.65L118.49,256.34L118.61,264.10L118.73,274.25L118.85,286.08L118.96,298.85L119.08,311.87L119.20,324.51L119.32,336.24L119.44,346.65L119.56,355.42L119.68,362.36L119.79,367.37L119.91,370.44L120.03,371.67L120.15,371.19L120.27,369.20L120.39,365.91L120.51,361.57L120.62,356.44L120.74,350.77L120.86,344.80L120.98,338.75L121.10,332.82L121.22,327.17L121.34,321.95L121.45,317.28L121.57,313.24L121.69,309.89L121.81,307.25L121.93,305.34L122.05,304.16L122.16,303.66L122.28,303.82L122.40,304.57L122.52,305.87L122.64,307.63L122.76,309.80L122.88,312.30L122.99,315.06L123.11,318.01L123.23,321.10L123.35,324.25L123.47,327.42L123.59,330.55L123.71,333.59L123.82,336.53L123.94,339.31L124.06,341.92L124.18,344.33L124.30,346.53L124.42,348.51L124.54,350.26L124.65,351.79L124.77,353.09L124.89,354.17L125.01,355.03L125.13,355.70L125.25,356.18L125.37,356.48L125.48,356.61L125.60,356.60L125.72,356.46L125.84,356.20L125.96,355.84L126.08,355.39L126.20,354.87L126.31,354.30L126.43,353.67L126.55,353.02L126.67,352.34L126.79,351.65L126.91,350.95L127.02,350.26L127.14,349.59L127.26,348.93L127.38,348.29L127.50,347.68L127.62,347.10L127.74,346.56L127.85,346.05L127.97,345.57L128.09,345.14L128.21,344.74L128.33,344.37L128.45,344.04L128.57,343.74L128.68,343.48L128.80,343.24L128.92,343.03L129.04,342.85L129.16,342.68L129.28,342.54L129.40,342.41L129.51,342.30L129.63,342.20L129.75,342.10L129.87,342.01L129.99,341.93L130.11,341.84L130.23,341.76L130.34,341.67L130.46,341.57L130.58,341.47L130.70,341.36L130.82,341.23L130.94,341.10L131.05,340.95L131.17,340.79L131.29,340.61L131.41,340.42L131.53,340.22L131.65,339.99L131.77,339.75L131.88,339.50L132.00,339.23L132.12,338.94L132.24,338.64L132.36,338.32L132.48,337.99L132.60,337.64L132.71,337.28L132.83,336.91L132.95,336.53L133.07,336.14L133.19,335.74L133.31,335.33L133.43,334.91L133.54,334.49L133.66,334.07L133.78,333.64L133.90,333.21L134.02,332.77L134.14,332.34L134.26,331.91L134.37,331.48L134.49,331.06L134.61,330.64L134.73,330.23L134.85,329.82L134.97,329.42L135.09,329.03L135.20,328.66L135.32,328.29L135.44,327.93L135.56,327.59L135.68,327.26L135.80,326.95L135.91,326.65L136.03,326.36L136.15,326.09L136.27,325.84L136.39,325.61L136.51,325.39L136.63,325.20L136.74,325.02L136.86,324.86L136.98,324.72L137.10,324.60L137.22,324.50L137.34,324.42L137.46,324.36L137.57,324.32L137.69,324.30L137.81,324.30L137.93,324.32L138.05,324.36L138.17,324.43L138.29,324.51L138.40,324.61L138.52,324.73L138.64,324.87L138.76,325.03L138.88,325.20L139.00,325.40L139.12,325.62L139.23,325.85L139.35,326.10L139.47,326.36L139.59,326.65L139.71,326.95L139.83,327.26L139.94,327.59L140.06,327.94L140.18,328.30L140.30,328.67L140.42,329.06L140.54,329.46L140.66,329.87L140.77,330.29L140.89,330.73L141.01,331.17L141.13,331.63L141.25,332.10L141.37,332.57L141.49,333.06L141.60,333.55L141.72,334.05L141.84,334.56L141.96,335.07L142.08,335.59L142.20,336.12L142.32,336.65L142.43,337.18L142.55,337.72L142.67,338.27L142.79,338.81L142.91,339.36L143.03,339.91L143.15,340.46L143.26,341.02L143.38,341.57L143.50,342.12L143.62,342.68L143.74,343.23L143.86,343.79L143.98,344.34L144.09,344.89L144.21,345.43L144.33,345.98L144.45,346.52L144.57,347.06L144.69,347.59L144.80,348.12L144.92,348.65L145.04,349.17L145.16,349.69L145.28,350.20L145.40,350.71L145.52,351.21L145.63,351.70L145.75,352.19L145.87,352.67L145.99,353.15L146.11,353.61L146.23,354.07L146.35,354.53L146.46,354.97L146.58,355.41L146.70,355.84L146.82,356.26L146.94,356.67L147.06,357.07L147.18,357.47L147.29,357.85L147.41,358.23L147.53,358.59L147.65,358.95L147.77,359.30L147.89,359.64L148.01,359.97L148.12,360.29L148.24,360.60L148.36,360.90L148.48,361.19L148.60,361.47L148.72,361.74L148.83,362.00L148.95,362.25L149.07,362.49L149.19,362.72L149.31,362.94L149.43,363.15L149.55,363.35L149.66,363.54L149.78,363.72L149.90,363.89L150.02,364.05L150.14,364.20L150.26,364.33L150.38,364.46L150.49,364.58L150.61,364.69L150.73,364.79L150.85,364.87L150.97,364.95L151.09,365.02L151.21,365.08L151.32,365.13L151.44,365.16L151.56,365.19L151.68,365.21L151.80,365.22L151.92,365.22L152.04,365.21L152.15,365.19L152.27,365.17L152.39,365.13L152.51,365.08L152.63,365.03L152.75,364.96L152.87,364.89L152.98,364.81L153.10,364.72L153.22,364.62L153.34,364.51L153.46,364.40L153.58,364.27L153.69,364.14L153.81,364.00L153.93,363.85L154.05,363.70L154.17,363.53L154.29,363.36L154.41,363.18L154.52,363.00L154.64,362.80L154.76,362.60L154.88,362.39L155.00,362.18L155.12,361.95L155.24,361.72L155.35,361.49L155.47,361.25L155.59,361.00L155.71,360.74L155.83,360.48L155.95,360.21L156.07,359.94L156.18,359.66L156.30,359.37L156.42,359.08L156.54,358.78L156.66,358.48L156.78,358.17L156.90,357.86L157.01,357.54L157.13,357.21L157.25,356.88L157.37,356.55L157.49,356.21L157.61,355.87L157.72,355.52L157.84,355.17L157.96,354.81L158.08,354.45L158.20,354.08L158.32,353.71L158.44,353.34L158.55,352.96L158.67,352.58L158.79,352.20L158.91,351.81L159.03,351.42L159.15,351.02L159.27,350.62L159.38,350.22L159.50,349.82L159.62,349.41L159.74,349.00L160.93,344.74L162.11,340.29L163.30,335.70L164.48,331.06L165.67,326.41L166.85,321.81L168.04,317.29L169.22,312.89L170.41,308.63L171.59,304.55L172.78,300.64L173.96,296.93L175.15,293.42L176.33,290.12L177.52,287.03L178.71,284.14L179.89,281.46L181.08,278.99L182.26,276.71L183.45,274.62L184.63,272.72L185.82,271.00L187.00,269.45L188.19,268.07L189.37,266.84L190.56,265.77L191.74,264.83L192.93,264.02L194.11,263.35L195.30,262.79L196.49,262.34L197.67,262.00L198.86,261.76L200.04,261.61L201.23,261.54L202.41,261.56L203.60,261.65L204.78,261.81L205.97,262.03L207.15,262.32L208.34,262.66L209.52,263.05L210.71,263.49L211.89,263.97L213.08,264.50L214.27,265.06L215.45,265.65L216.64,266.28L217.82,266.93L219.01,267.61L220.19,268.31L221.38,269.03L222.56,269.77L223.75,270.53L224.93,271.30L226.12,272.08L227.30,272.88L228.49,273.69L229.67,274.50L230.86,275.33L232.05,276.15L233.23,276.99L234.42,277.82L235.60,278.66L236.79,279.51L237.97,280.35L239.16,281.19L240.34,282.04L241.53,282.88L242.71,283.72L243.90,284.56L245.08,285.39L246.27,286.22L247.45,287.05L248.64,287.88L249.83,288.70L251.01,289.51L252.20,290.32L253.38,291.13L254.57,291.92L255.75,292.72L256.94,293.50L258.12,294.29L259.31,295.06L260.49,295.83L261.68,296.59L262.86,297.34L264.05,298.09L265.23,298.83L266.42,299.56L267.61,300.29L268.79,301.01L269.98,301.72L271.16,302.42L272.35,303.12L273.53,303.81L274.72,304.49L275.90,305.16L277.09,305.83L278.27,306.49L279.46,307.14L280.64,307.79L281.83,308.43L283.01,309.06L284.20,309.68L285.39,310.30L286.57,310.91L287.76,311.51L288.94,312.10L290.13,312.69L291.31,313.27L292.50,313.85L293.68,314.42L294.87,314.98L296.05,315.53L297.24,316.08L298.42,316.62L299.61,317.16L300.79,317.68L301.98,318.21L303.17,318.72L304.35,319.23L305.54,319.74L306.72,320.23L307.91,320.73L309.09,321.21L310.28,321.69L311.46,322.17L312.65,322.63L313.83,323.10L315.02,323.55L316.20,324.01L317.39,324.45L318.57,324.89L319.76,325.33L320.95,325.76L322.13,326.18L323.32,326.60L324.50,327.02L325.69,327.43L326.87,327.84L328.06,328.24L329.24,328.63L330.43,329.02L331.61,329.41L332.80,329.79L333.98,330.17L335.17,330.54L336.35,330.91L337.54,331.27L338.73,331.63L339.91,331.99L341.10,332.34L342.28,332.69L343.47,333.03L344.65,333.37L345.84,333.71L347.02,334.04L348.21,334.36L349.39,334.69L350.58,335.01L351.76,335.32L352.95,335.64L354.13,335.95L355.32,336.25L356.51,336.55L357.69,336.85L358.88,337.15L360.06,337.44L361.25,337.73L362.43,338.01L363.62,338.30L364.80,338.58L365.99,338.85L367.17,339.12L368.36,339.39L369.54,339.66L370.73,339.93L371.91,340.19L373.10,340.44L374.29,340.70L375.47,340.95L376.66,341.20L377.84,341.45L379.03,341.69L380.21,341.93L381.40,342.17L382.58,342.41L383.77,342.64L384.95,342.87L386.14,343.10L387.32,343.33L388.51,343.55L389.69,343.78L390.88,343.99L392.07,344.21L393.25,344.43L394.44,344.64L395.62,344.85L396.81,345.06L397.99,345.26L399.18,345.47L400.36,345.67L401.55,345.87L402.73,346.06" fill="none" stroke="#ff0000" stroke-width="1.95" stroke-dasharray="6.8 5.8" stroke-linejoin="round" transform="scale(1 1.35)"/>
<text x="359.0" y="96.17" transform="scale(1 1.07)" text-anchor="end" class="lt"><tspan class="ga" textLength="14.8" lengthAdjust="spacingAndGlyphs">α</tspan><tspan class="sb" dy="6.07">00</tspan><tspan dy="-6.07" letter-spacing=".3">=0.79</tspan>, NH, <tspan class="gk" textLength="13.2" lengthAdjust="spacingAndGlyphs">δ</tspan><tspan class="sb" dy="6.07">CP</tspan><tspan dy="-6.07">=90</tspan><tspan class="sp" dy="-9.91">o</tspan></text><line x1="372.9" y1="94.6" x2="434.9" y2="94.6" stroke="#ff0000" stroke-width="2" stroke-dasharray="8 10.8"/>
<path d="M108.00,364.15L108.18,219.64L108.23,5.93M114.42,5.93L114.46,16.13L114.48,5.93M115.80,5.93L115.88,67.47L116.00,111.98L116.12,110.76L116.24,68.94L116.34,5.93M117.91,5.93L118.02,68.03L118.13,125.53L118.25,168.04L118.37,194.23L118.49,203.92L118.61,197.96L118.73,178.00L118.85,146.34L118.96,105.66L119.08,58.83L119.20,8.75L119.21,5.93M121.25,5.93L121.34,36.15L121.45,75.17L121.57,112.15L121.69,146.38L121.81,177.26L121.93,204.34L122.05,227.28L122.16,245.87L122.28,260.00L122.40,269.68L122.52,274.98L122.64,276.09L122.76,273.23L122.88,266.71L122.99,256.86L123.11,244.06L123.23,228.68L123.35,211.15L123.47,191.88L123.59,171.27L123.71,149.72L123.82,127.61L123.94,105.31L124.06,83.16L124.18,61.46L124.30,40.50L124.42,20.54L124.51,5.93M127.11,5.93L127.14,9.89L127.26,24.51L127.38,39.54L127.50,54.86L127.62,70.37L127.74,85.97L127.85,101.56L127.97,117.05L128.09,132.37L128.21,147.43L128.33,162.16L128.45,176.51L128.57,190.40L128.68,203.78L128.80,216.62L128.92,228.86L129.04,240.48L129.16,251.44L129.28,261.71L129.40,271.28L129.51,280.14L129.63,288.26L129.75,295.65L129.87,302.30L129.99,308.22L130.11,313.40L130.23,317.86L130.34,321.60L130.46,324.64L130.58,327.00L130.70,328.69L130.82,329.73L130.94,330.15L131.05,329.96L131.17,329.20L131.29,327.87L131.41,326.03L131.53,323.67L131.65,320.85L131.77,317.58L131.88,313.88L132.00,309.80L132.12,305.36L132.24,300.57L132.36,295.49L132.48,290.12L132.60,284.50L132.71,278.65L132.83,272.60L132.95,266.37L133.07,259.99L133.19,253.49L133.31,246.88L133.43,240.19L133.54,233.43L133.66,226.64L133.78,219.83L133.90,213.01L134.02,206.21L134.14,199.45L134.26,192.73L134.37,186.08L134.49,179.50L134.61,173.02L134.73,166.64L134.85,160.38L134.97,154.24L135.09,148.24L135.20,142.39L135.32,136.69L135.44,131.15L135.56,125.78L135.68,120.58L135.80,115.56L135.91,110.73L136.03,106.08L136.15,101.62L136.27,97.36L136.39,93.30L136.51,89.43L136.63,85.77L136.74,82.30L136.86,79.03L136.98,75.97L137.10,73.10L137.22,70.44L137.34,67.97L137.46,65.70L137.57,63.62L137.69,61.74L137.81,60.05L137.93,58.55L138.05,57.24L138.17,56.11L138.29,55.16L138.40,54.39L138.52,53.80L138.64,53.38L138.76,53.13L138.88,53.04L139.00,53.11L139.12,53.34L139.23,53.73L139.35,54.27L139.47,54.96L139.59,55.79L139.71,56.76L139.83,57.87L139.94,59.11L140.06,60.48L140.18,61.97L140.30,63.59L140.42,65.32L140.54,67.17L140.66,69.12L140.77,71.18L140.89,73.35L141.01,75.61L141.13,77.97L141.25,80.41L141.37,82.94L141.49,85.56L141.60,88.25L141.72,91.02L141.84,93.86L141.96,96.77L142.08,99.74L142.20,102.77L142.32,105.86L142.43,109.00L142.55,112.19L142.67,115.43L142.79,118.71L142.91,122.03L143.03,125.38L143.15,128.77L143.26,132.19L143.38,135.63L143.50,139.10L143.62,142.58L143.74,146.09L143.86,149.61L143.98,153.14L144.09,156.68L144.21,160.23L144.33,163.78L144.45,167.33L144.57,170.88L144.69,174.43L144.80,177.98L144.92,181.52L145.04,185.04L145.16,188.56L145.28,192.06L145.40,195.55L145.52,199.02L145.63,202.47L145.75,205.90L145.87,209.31L145.99,212.70L146.11,216.06L146.23,219.40L146.35,222.71L146.46,225.99L146.58,229.24L146.70,232.46L146.82,235.65L146.94,238.80L147.06,241.92L147.18,245.01L147.29,248.06L147.41,251.07L147.53,254.05L147.65,256.99L147.77,259.89L147.89,262.75L148.01,265.58L148.12,268.36L148.24,271.10L148.36,273.80L148.48,276.46L148.60,279.08L148.72,281.66L148.83,284.19L148.95,286.69L149.07,289.14L149.19,291.54L149.31,293.91L149.43,296.23L149.55,298.50L149.66,300.74L149.78,302.93L149.90,305.08L150.02,307.18L150.14,309.24L150.26,311.26L150.38,313.23L150.49,315.16L150.61,317.05L150.73,318.90L150.85,320.70L150.97,322.46L151.09,324.18L151.21,325.85L151.32,327.48L151.44,329.08L151.56,330.63L151.68,332.14L151.80,333.60L151.92,335.03L152.04,336.42L152.15,337.77L152.27,339.07L152.39,340.34L152.51,341.57L152.63,342.76L152.75,343.91L152.87,345.03L152.98,346.10L153.10,347.14L153.22,348.14L153.34,349.11L153.46,350.03L153.58,350.93L153.69,351.78L153.81,352.61L153.93,353.39L154.05,354.15L154.17,354.87L154.29,355.55L154.41,356.21L154.52,356.83L154.64,357.42L154.76,357.97L154.88,358.50L155.00,358.99L155.12,359.46L155.24,359.89L155.35,360.30L155.47,360.67L155.59,361.02L155.71,361.34L155.83,361.63L155.95,361.89L156.07,362.13L156.18,362.34L156.30,362.52L156.42,362.68L156.54,362.81L156.66,362.92L156.78,363.00L156.90,363.06L157.01,363.09L157.13,363.10L157.25,363.09L157.37,363.05L157.49,363.00L157.61,362.92L157.72,362.82L157.84,362.70L157.96,362.56L158.08,362.40L158.20,362.21L158.32,362.01L158.44,361.79L158.55,361.55L158.67,361.30L158.79,361.02L158.91,360.73L159.03,360.42L159.15,360.10L159.27,359.75L159.38,359.39L159.50,359.02L159.62,358.63L159.74,358.22L160.93,353.50L162.11,347.54L163.30,340.70L164.48,333.22L165.67,325.29L166.85,317.11L168.04,308.80L169.22,300.50L170.41,292.31L171.59,284.29L172.78,276.53L173.96,269.05L175.15,261.91L176.33,255.13L177.52,248.72L178.71,242.70L179.89,237.07L181.08,231.83L182.26,226.97L183.45,222.49L184.63,218.37L185.82,214.62L187.00,211.20L188.19,208.12L189.37,205.35L190.56,202.88L191.74,200.69L192.93,198.77L194.11,197.11L195.30,195.69L196.49,194.50L197.67,193.52L198.86,192.73L200.04,192.13L201.23,191.71L202.41,191.45L203.60,191.34L204.78,191.37L205.97,191.53L207.15,191.81L208.34,192.20L209.52,192.70L210.71,193.29L211.89,193.97L213.08,194.73L214.27,195.56L215.45,196.46L216.64,197.42L217.82,198.44L219.01,199.51L220.19,200.63L221.38,201.79L222.56,202.98L223.75,204.21L224.93,205.47L226.12,206.76L227.30,208.07L228.49,209.40L229.67,210.75L230.86,212.12L232.05,213.49L233.23,214.88L234.42,216.28L235.60,217.68L236.79,219.09L237.97,220.50L239.16,221.92L240.34,223.33L241.53,224.74L242.71,226.16L243.90,227.56L245.08,228.97L246.27,230.37L247.45,231.76L248.64,233.15L249.83,234.53L251.01,235.90L252.20,237.27L253.38,238.62L254.57,239.97L255.75,241.30L256.94,242.62L258.12,243.94L259.31,245.24L260.49,246.53L261.68,247.81L262.86,249.08L264.05,250.34L265.23,251.58L266.42,252.81L267.61,254.03L268.79,255.24L269.98,256.44L271.16,257.62L272.35,258.79L273.53,259.94L274.72,261.09L275.90,262.22L277.09,263.34L278.27,264.44L279.46,265.54L280.64,266.62L281.83,267.69L283.01,268.74L284.20,269.79L285.39,270.82L286.57,271.84L287.76,272.84L288.94,273.84L290.13,274.82L291.31,275.79L292.50,276.75L293.68,277.70L294.87,278.64L296.05,279.56L297.24,280.47L298.42,281.38L299.61,282.27L300.79,283.15L301.98,284.02L303.17,284.87L304.35,285.72L305.54,286.56L306.72,287.39L307.91,288.20L309.09,289.01L310.28,289.81L311.46,290.59L312.65,291.37L313.83,292.14L315.02,292.90L316.20,293.65L317.39,294.39L318.57,295.12L319.76,295.84L320.95,296.55L322.13,297.25L323.32,297.95L324.50,298.64L325.69,299.31L326.87,299.98L328.06,300.65L329.24,301.30L330.43,301.94L331.61,302.58L332.80,303.21L333.98,303.83L335.17,304.45L336.35,305.06L337.54,305.66L338.73,306.25L339.91,306.83L341.10,307.41L342.28,307.98L343.47,308.55L344.65,309.11L345.84,309.66L347.02,310.20L348.21,310.74L349.39,311.27L350.58,311.80L351.76,312.32L352.95,312.83L354.13,313.34L355.32,313.84L356.51,314.34L357.69,314.83L358.88,315.31L360.06,315.79L361.25,316.26L362.43,316.73L363.62,317.19L364.80,317.65L365.99,318.10L367.17,318.55L368.36,318.99L369.54,319.42L370.73,319.85L371.91,320.28L373.10,320.70L374.29,321.12L375.47,321.53L376.66,321.94L377.84,322.34L379.03,322.74L380.21,323.14L381.40,323.53L382.58,323.91L383.77,324.29L384.95,324.67L386.14,325.04L387.32,325.41L388.51,325.78L389.69,326.14L390.88,326.49L392.07,326.85L393.25,327.20L394.44,327.54L395.62,327.88L396.81,328.22L397.99,328.56L399.18,328.89L400.36,329.21L401.55,329.54L402.73,329.86" fill="none" stroke="#000000" stroke-width="2.20" stroke-linejoin="round" transform="scale(1 1.35)"/>
<text x="359.0" y="117.38" transform="scale(1 1.07)" text-anchor="end" class="lt">SI, IH, <tspan class="gk" textLength="13.2" lengthAdjust="spacingAndGlyphs">δ</tspan><tspan class="sb" dy="6.07">CP</tspan><tspan dy="-6.07">=-90</tspan><tspan class="sp" dy="-9.91">o</tspan></text><line x1="372.9" y1="117.2" x2="434.9" y2="117.2" stroke="#000000" stroke-width="2"/>
<path d="M108.00,364.15L108.18,272.91L108.28,5.93M113.19,5.93L113.27,56.98L113.36,5.93M114.21,5.93L114.22,23.21L114.34,110.66L114.46,125.64L114.58,73.35L114.66,5.93M115.62,5.93L115.65,24.51L115.76,108.19L115.88,166.71L116.00,194.15L116.12,189.98L116.24,158.20L116.36,106.02L116.48,42.40L116.54,5.93M117.65,5.93L117.66,11.24L117.78,67.99L117.90,121.72L118.02,169.03L118.13,207.36L118.25,235.04L118.37,251.25L118.49,256.02L118.61,250.03L118.73,234.53L118.85,211.18L118.96,181.91L119.08,148.72L119.20,113.66L119.32,78.61L119.44,45.31L119.56,15.21L119.60,5.93M120.71,5.93L120.74,11.50L120.86,36.33L120.98,63.09L121.10,90.96L121.22,119.18L121.34,147.03L121.45,173.87L121.57,199.13L121.69,222.34L121.81,243.11L121.93,261.14L122.05,276.21L122.16,288.21L122.28,297.07L122.40,302.82L122.52,305.55L122.64,305.37L122.76,302.49L122.88,297.11L122.99,289.47L123.11,279.86L123.23,268.55L123.35,255.82L123.47,241.97L123.59,227.29L123.71,212.05L123.82,196.51L123.94,180.94L124.06,165.55L124.18,150.56L124.30,136.17L124.42,122.53L124.54,109.81L124.65,98.12L124.77,87.56L124.89,78.23L125.01,70.17L125.13,63.43L125.25,58.04L125.37,54.01L125.48,51.31L125.60,49.94L125.72,49.86L125.84,51.03L125.96,53.38L126.08,56.85L126.20,61.39L126.31,66.91L126.43,73.33L126.55,80.57L126.67,88.55L126.79,97.18L126.91,106.38L127.02,116.07L127.14,126.16L127.26,136.56L127.38,147.21L127.50,158.02L127.62,168.92L127.74,179.85L127.85,190.73L127.97,201.52L128.09,212.14L128.21,222.55L128.33,232.71L128.45,242.56L128.57,252.07L128.68,261.20L128.80,269.92L128.92,278.21L129.04,286.04L129.16,293.40L129.28,300.26L129.40,306.62L129.51,312.46L129.63,317.79L129.75,322.59L129.87,326.87L129.99,330.64L130.11,333.89L130.23,336.63L130.34,338.88L130.46,340.63L130.58,341.91L130.70,342.73L130.82,343.10L130.94,343.04L131.05,342.57L131.17,341.70L131.29,340.45L131.41,338.84L131.53,336.88L131.65,334.61L131.77,332.04L131.88,329.18L132.00,326.06L132.12,322.70L132.24,319.12L132.36,315.33L132.48,311.36L132.60,307.23L132.71,302.94L132.83,298.53L132.95,294.01L133.07,289.39L133.19,284.69L133.31,279.93L133.43,275.12L133.54,270.28L133.66,265.42L133.78,260.55L133.90,255.69L134.02,250.86L134.14,246.05L134.26,241.29L134.37,236.58L134.49,231.93L134.61,227.35L134.73,222.86L134.85,218.45L134.97,214.14L135.09,209.93L135.20,205.82L135.32,201.84L135.44,197.97L135.56,194.23L135.68,190.61L135.80,187.13L135.91,183.78L136.03,180.58L136.15,177.51L136.27,174.59L136.39,171.81L136.51,169.17L136.63,166.69L136.74,164.35L136.86,162.16L136.98,160.12L137.10,158.22L137.22,156.47L137.34,154.87L137.46,153.42L137.57,152.10L137.69,150.93L137.81,149.91L137.93,149.02L138.05,148.27L138.17,147.65L138.29,147.17L138.40,146.82L138.52,146.59L138.64,146.50L138.76,146.52L138.88,146.67L139.00,146.93L139.12,147.31L139.23,147.79L139.35,148.39L139.47,149.09L139.59,149.90L139.71,150.80L139.83,151.80L139.94,152.89L140.06,154.07L140.18,155.34L140.30,156.69L140.42,158.12L140.54,159.63L140.66,161.21L140.77,162.86L140.89,164.58L141.01,166.37L141.13,168.22L141.25,170.12L141.37,172.08L141.49,174.09L141.60,176.16L141.72,178.27L141.84,180.42L141.96,182.62L142.08,184.85L142.20,187.12L142.32,189.43L142.43,191.76L142.55,194.12L142.67,196.51L142.79,198.93L142.91,201.36L143.03,203.82L143.15,206.29L143.26,208.78L143.38,211.28L143.50,213.79L143.62,216.30L143.74,218.83L143.86,221.36L143.98,223.90L144.09,226.43L144.21,228.97L144.33,231.50L144.45,234.03L144.57,236.56L144.69,239.08L144.80,241.59L144.92,244.09L145.04,246.58L145.16,249.07L145.28,251.53L145.40,253.99L145.52,256.42L145.63,258.85L145.75,261.25L145.87,263.64L145.99,266.01L146.11,268.35L146.23,270.68L146.35,272.98L146.46,275.27L146.58,277.53L146.70,279.76L146.82,281.97L146.94,284.16L147.06,286.32L147.18,288.45L147.29,290.56L147.41,292.63L147.53,294.69L147.65,296.71L147.77,298.70L147.89,300.67L148.01,302.61L148.12,304.51L148.24,306.39L148.36,308.24L148.48,310.05L148.60,311.84L148.72,313.59L148.83,315.32L148.95,317.01L149.07,318.68L149.19,320.31L149.31,321.91L149.43,323.48L149.55,325.02L149.66,326.52L149.78,328.00L149.90,329.44L150.02,330.86L150.14,332.24L150.26,333.59L150.38,334.91L150.49,336.20L150.61,337.46L150.73,338.68L150.85,339.88L150.97,341.05L151.09,342.19L151.21,343.29L151.32,344.37L151.44,345.42L151.56,346.43L151.68,347.42L151.80,348.38L151.92,349.31L152.04,350.22L152.15,351.09L152.27,351.94L152.39,352.75L152.51,353.55L152.63,354.31L152.75,355.04L152.87,355.75L152.98,356.44L153.10,357.09L153.22,357.72L153.34,358.33L153.46,358.91L153.58,359.46L153.69,359.99L153.81,360.50L153.93,360.98L154.05,361.44L154.17,361.87L154.29,362.28L154.41,362.67L154.52,363.04L154.64,363.38L154.76,363.70L154.88,364.00L155.00,364.27L155.12,364.53L155.24,364.77L155.35,364.98L155.47,365.18L155.59,365.35L155.71,365.51L155.83,365.64L155.95,365.76L156.07,365.86L156.18,365.94L156.30,366.00L156.42,366.04L156.54,366.07L156.66,366.08L156.78,366.07L156.90,366.05L157.01,366.01L157.13,365.95L157.25,365.88L157.37,365.79L157.49,365.69L157.61,365.58L157.72,365.44L157.84,365.30L157.96,365.14L158.08,364.97L158.20,364.78L158.32,364.58L158.44,364.37L158.55,364.14L158.67,363.90L158.79,363.65L158.91,363.39L159.03,363.12L159.15,362.83L159.27,362.54L159.38,362.23L159.50,361.91L159.62,361.58L159.74,361.25L160.93,357.36L162.11,352.71L163.30,347.48L164.48,341.85L165.67,335.95L166.85,329.91L168.04,323.82L169.22,317.78L170.41,311.85L171.59,306.07L172.78,300.50L173.96,295.16L175.15,290.08L176.33,285.27L177.52,280.74L178.71,276.50L179.89,272.55L181.08,268.88L182.26,265.50L183.45,262.39L184.63,259.55L185.82,256.97L187.00,254.63L188.19,252.54L189.37,250.66L190.56,249.01L191.74,247.55L192.93,246.29L194.11,245.21L195.30,244.30L196.49,243.55L197.67,242.95L198.86,242.48L200.04,242.15L201.23,241.95L202.41,241.85L203.60,241.86L204.78,241.97L205.97,242.17L207.15,242.45L208.34,242.81L209.52,243.24L210.71,243.73L211.89,244.29L213.08,244.90L214.27,245.56L215.45,246.27L216.64,247.02L217.82,247.81L219.01,248.63L220.19,249.48L221.38,250.36L222.56,251.27L223.75,252.20L224.93,253.14L226.12,254.11L227.30,255.09L228.49,256.08L229.67,257.09L230.86,258.10L232.05,259.12L233.23,260.15L234.42,261.18L235.60,262.21L236.79,263.25L237.97,264.29L239.16,265.33L240.34,266.36L241.53,267.40L242.71,268.43L243.90,269.46L245.08,270.49L246.27,271.51L247.45,272.53L248.64,273.54L249.83,274.54L251.01,275.54L252.20,276.53L253.38,277.51L254.57,278.49L255.75,279.46L256.94,280.42L258.12,281.37L259.31,282.31L260.49,283.25L261.68,284.17L262.86,285.09L264.05,286.00L265.23,286.90L266.42,287.79L267.61,288.67L268.79,289.54L269.98,290.40L271.16,291.25L272.35,292.09L273.53,292.93L274.72,293.75L275.90,294.56L277.09,295.37L278.27,296.16L279.46,296.95L280.64,297.73L281.83,298.49L283.01,299.25L284.20,300.00L285.39,300.74L286.57,301.47L287.76,302.19L288.94,302.91L290.13,303.61L291.31,304.31L292.50,304.99L293.68,305.67L294.87,306.34L296.05,307.00L297.24,307.66L298.42,308.30L299.61,308.94L300.79,309.57L301.98,310.19L303.17,310.80L304.35,311.41L305.54,312.01L306.72,312.60L307.91,313.18L309.09,313.76L310.28,314.33L311.46,314.89L312.65,315.44L313.83,315.99L315.02,316.53L316.20,317.07L317.39,317.59L318.57,318.11L319.76,318.63L320.95,319.14L322.13,319.64L323.32,320.13L324.50,320.62L325.69,321.10L326.87,321.58L328.06,322.05L329.24,322.52L330.43,322.98L331.61,323.43L332.80,323.88L333.98,324.32L335.17,324.76L336.35,325.19L337.54,325.62L338.73,326.04L339.91,326.46L341.10,326.87L342.28,327.27L343.47,327.67L344.65,328.07L345.84,328.46L347.02,328.85L348.21,329.23L349.39,329.61L350.58,329.98L351.76,330.35L352.95,330.72L354.13,331.08L355.32,331.43L356.51,331.78L357.69,332.13L358.88,332.47L360.06,332.81L361.25,333.15L362.43,333.48L363.62,333.81L364.80,334.13L365.99,334.45L367.17,334.77L368.36,335.08L369.54,335.39L370.73,335.70L371.91,336.00L373.10,336.30L374.29,336.59L375.47,336.89L376.66,337.17L377.84,337.46L379.03,337.74L380.21,338.02L381.40,338.30L382.58,338.57L383.77,338.84L384.95,339.11L386.14,339.37L387.32,339.63L388.51,339.89L389.69,340.15L390.88,340.40L392.07,340.65L393.25,340.90L394.44,341.14L395.62,341.38L396.81,341.62L397.99,341.86L399.18,342.09L400.36,342.32L401.55,342.55L402.73,342.78" fill="none" stroke="#000000" stroke-width="1.95" stroke-dasharray="6.8 5.8" stroke-linejoin="round" transform="scale(1 1.35)"/>
<text x="359.0" y="138.50" transform="scale(1 1.07)" text-anchor="end" class="lt"><tspan class="ga" textLength="14.8" lengthAdjust="spacingAndGlyphs">α</tspan><tspan class="sb" dy="6.07">00</tspan><tspan dy="-6.07" letter-spacing=".3">=0.83</tspan>, IH, <tspan class="gk" textLength="13.2" lengthAdjust="spacingAndGlyphs">δ</tspan><tspan class="sb" dy="6.07">CP</tspan><tspan dy="-6.07">=-90</tspan><tspan class="sp" dy="-9.91">o</tspan></text><line x1="372.9" y1="139.8" x2="434.9" y2="139.8" stroke="#000000" stroke-width="2" stroke-dasharray="8 10.8"/>
<rect x="106.4" y="8.0" width="355.6" height="496.0" fill="none" stroke="#000" stroke-width="1.7"/>
</g>
<g>
<path d="M469.40,373.33L469.47,5.93M472.85,5.93L472.89,58.27L472.91,5.93M473.35,5.93L473.36,40.52L473.48,151.34L473.57,5.93M474.03,5.93L474.08,101.07L474.19,229.53L474.31,174.40L474.43,5.93M474.88,5.93L474.90,36.22L475.02,192.02L475.14,282.95L475.26,283.38L475.38,208.03L475.50,97.35L475.60,5.93M475.97,5.93L476.09,95.82L476.21,194.63L476.32,277.23L476.44,327.51L476.56,339.21L476.68,315.34L476.80,265.71L476.92,203.66L477.04,142.75L477.15,94.29L477.27,65.78L477.39,60.35L477.51,77.10L477.63,111.98L477.75,158.96L477.86,211.20L477.98,262.14L478.10,306.25L478.22,339.57L478.34,359.87L478.46,366.60L478.57,360.69L478.69,344.18L478.81,319.85L478.93,290.81L479.05,260.18L479.17,230.81L479.28,205.09L479.40,184.78L479.52,171.06L479.64,164.44L479.76,164.87L479.88,171.86L480.00,184.51L480.11,201.69L480.23,222.13L480.35,244.50L480.47,267.52L480.59,290.02L480.71,311.00L480.82,329.62L480.94,345.29L481.06,357.58L481.18,366.28L481.30,371.38L481.42,373.00L481.53,371.39L481.65,366.91L481.77,360.00L481.89,351.14L482.01,340.82L482.13,329.54L482.24,317.78L482.36,305.99L482.48,294.55L482.60,283.83L482.72,274.10L482.84,265.60L482.96,258.49L483.07,252.89L483.19,248.86L483.31,246.41L483.43,245.49L483.55,246.05L483.67,247.99L483.78,251.17L483.90,255.46L484.02,260.69L484.14,266.71L484.26,273.35L484.38,280.44L484.49,287.83L484.61,295.36L484.73,302.89L484.85,310.29L484.97,317.44L485.09,324.25L485.20,330.62L485.32,336.49L485.44,341.79L485.56,346.48L485.68,350.54L485.80,353.95L485.92,356.69L486.03,358.78L486.15,360.22L486.27,361.05L486.39,361.29L486.51,360.97L486.63,360.14L486.74,358.83L486.86,357.11L486.98,355.00L487.10,352.58L487.22,349.87L487.34,346.94L487.45,343.82L487.57,340.58L487.69,337.25L487.81,333.87L487.93,330.49L488.05,327.14L488.16,323.86L488.28,320.68L488.40,317.61L488.52,314.70L488.64,311.97L488.76,309.41L488.88,307.07L488.99,304.94L489.11,303.04L489.23,301.37L489.35,299.93L489.47,298.74L489.59,297.79L489.70,297.07L489.82,296.58L489.94,296.33L490.06,296.29L490.18,296.46L490.30,296.84L490.41,297.40L490.53,298.15L490.65,299.06L490.77,300.13L490.89,301.35L491.01,302.69L491.12,304.15L491.24,305.72L491.36,307.37L491.48,309.10L491.60,310.90L491.72,312.75L491.84,314.64L491.95,316.56L492.07,318.49L492.19,320.43L492.31,322.36L492.43,324.29L492.55,326.18L492.66,328.05L492.78,329.88L492.90,331.65L493.02,333.38L493.14,335.04L493.26,336.64L493.37,338.16L493.49,339.61L493.61,340.98L493.73,342.27L493.85,343.46L493.97,344.57L494.08,345.59L494.20,346.52L494.32,347.35L494.44,348.09L494.56,348.74L494.68,349.29L494.80,349.75L494.91,350.11L495.03,350.39L495.15,350.57L495.27,350.66L495.39,350.67L495.51,350.59L495.62,350.43L495.74,350.19L495.86,349.88L495.98,349.48L496.10,349.02L496.22,348.49L496.33,347.89L496.45,347.23L496.57,346.51L496.69,345.74L496.81,344.91L496.93,344.04L497.04,343.12L497.16,342.15L497.28,341.15L497.40,340.11L497.52,339.04L497.64,337.94L497.76,336.81L497.87,335.66L497.99,334.49L498.11,333.30L498.23,332.10L498.35,330.89L498.47,329.67L498.58,328.44L498.70,327.21L498.82,325.98L498.94,324.75L499.06,323.52L499.18,322.31L499.29,321.10L499.41,319.90L499.53,318.71L499.65,317.54L499.77,316.38L499.89,315.25L500.00,314.13L500.12,313.03L500.24,311.96L500.36,310.91L500.48,309.88L500.60,308.89L500.72,307.91L500.83,306.97L500.95,306.06L501.07,305.18L501.19,304.33L501.31,303.51L501.43,302.72L501.54,301.96L501.66,301.24L501.78,300.55L501.90,299.90L502.02,299.28L502.14,298.70L502.25,298.15L502.37,297.63L502.49,297.15L502.61,296.71L502.73,296.30L502.85,295.92L502.96,295.58L503.08,295.28L503.20,295.01L503.32,294.77L503.44,294.56L503.56,294.39L503.68,294.26L503.79,294.15L503.91,294.08L504.03,294.04L504.15,294.03L504.27,294.05L504.39,294.10L504.50,294.18L504.62,294.30L504.74,294.44L504.86,294.60L504.98,294.80L505.10,295.02L505.21,295.27L505.33,295.54L505.45,295.84L505.57,296.17L505.69,296.52L505.81,296.89L505.92,297.28L506.04,297.69L506.16,298.13L506.28,298.59L506.40,299.06L506.52,299.56L506.64,300.07L506.75,300.60L506.87,301.15L506.99,301.71L507.11,302.29L507.23,302.89L507.35,303.50L507.46,304.12L507.58,304.76L507.70,305.41L507.82,306.07L507.94,306.74L508.06,307.42L508.17,308.11L508.29,308.82L508.41,309.53L508.53,310.25L508.65,310.97L508.77,311.71L508.88,312.44L509.00,313.19L509.12,313.94L509.24,314.70L509.36,315.46L509.48,316.22L509.60,316.99L509.71,317.76L509.83,318.53L509.95,319.31L510.07,320.08L510.19,320.86L510.31,321.64L510.42,322.41L510.54,323.19L510.66,323.97L510.78,324.74L510.90,325.52L511.02,326.29L511.13,327.06L511.25,327.83L511.37,328.59L511.49,329.35L511.61,330.11L511.73,330.86L511.84,331.61L511.96,332.36L512.08,333.10L512.20,333.83L512.32,334.56L512.44,335.29L512.56,336.01L512.67,336.72L512.79,337.42L512.91,338.12L513.03,338.81L513.15,339.50L513.27,340.18L513.38,340.85L513.50,341.51L513.62,342.17L513.74,342.82L513.86,343.46L513.98,344.09L514.09,344.71L514.21,345.33L514.33,345.93L514.45,346.53L514.57,347.12L514.69,347.70L514.80,348.27L514.92,348.83L515.04,349.38L515.16,349.93L515.28,350.46L515.40,350.98L515.52,351.50L515.63,352.00L515.75,352.50L515.87,352.99L515.99,353.46L516.11,353.93L516.23,354.39L516.34,354.83L516.46,355.27L516.58,355.70L516.70,356.11L516.82,356.52L516.94,356.92L517.05,357.31L517.17,357.68L517.29,358.05L517.41,358.41L517.53,358.76L517.65,359.09L517.76,359.42L517.88,359.74L518.00,360.05L518.12,360.35L518.24,360.64L518.36,360.92L518.48,361.19L518.59,361.45L518.71,361.70L518.83,361.94L518.95,362.17L519.07,362.39L519.19,362.60L519.30,362.80L519.42,363.00L519.54,363.18L519.66,363.36L519.78,363.52L519.90,363.68L520.01,363.83L520.13,363.97L520.25,364.10L520.37,364.22L520.49,364.33L520.61,364.43L520.72,364.53L520.84,364.62L520.96,364.70L521.08,364.77L522.26,365.02L523.45,364.53L524.63,363.37L525.82,361.63L527.00,359.39L528.18,356.74L529.37,353.74L530.55,350.47L531.74,346.99L532.92,343.35L534.10,339.60L535.29,335.80L536.47,331.97L537.66,328.15L538.84,324.37L540.02,320.65L541.21,317.01L542.39,313.46L543.58,310.03L544.76,306.72L545.94,303.54L547.13,300.50L548.31,297.59L549.50,294.83L550.68,292.21L551.86,289.74L553.05,287.41L554.23,285.22L555.42,283.16L556.60,281.25L557.78,279.46L558.97,277.81L560.15,276.27L561.34,274.86L562.52,273.57L563.70,272.39L564.89,271.31L566.07,270.34L567.26,269.47L568.44,268.69L569.62,268.00L570.81,267.39L571.99,266.87L573.18,266.42L574.36,266.05L575.54,265.75L576.73,265.51L577.91,265.34L579.10,265.22L580.28,265.16L581.46,265.15L582.65,265.20L583.83,265.29L585.02,265.42L586.20,265.59L587.38,265.81L588.57,266.06L589.75,266.34L590.94,266.65L592.12,267.00L593.30,267.37L594.49,267.77L595.67,268.20L596.86,268.64L598.04,269.11L599.22,269.59L600.41,270.10L601.59,270.62L602.78,271.15L603.96,271.70L605.14,272.27L606.33,272.84L607.51,273.43L608.70,274.02L609.88,274.63L611.06,275.24L612.25,275.86L613.43,276.48L614.62,277.11L615.80,277.75L616.98,278.39L618.17,279.03L619.35,279.68L620.54,280.33L621.72,280.98L622.90,281.63L624.09,282.29L625.27,282.94L626.46,283.60L627.64,284.25L628.82,284.91L630.01,285.56L631.19,286.21L632.38,286.87L633.56,287.52L634.74,288.16L635.93,288.81L637.11,289.45L638.30,290.09L639.48,290.73L640.66,291.36L641.85,292.00L643.03,292.62L644.22,293.25L645.40,293.87L646.58,294.49L647.77,295.10L648.95,295.71L650.14,296.32L651.32,296.92L652.50,297.52L653.69,298.11L654.87,298.70L656.06,299.29L657.24,299.87L658.42,300.45L659.61,301.02L660.79,301.59L661.98,302.15L663.16,302.71L664.34,303.26L665.53,303.81L666.71,304.36L667.90,304.90L669.08,305.43L670.26,305.96L671.45,306.49L672.63,307.01L673.82,307.53L675.00,308.04L676.18,308.55L677.37,309.05L678.55,309.55L679.74,310.05L680.92,310.54L682.10,311.02L683.29,311.51L684.47,311.98L685.66,312.45L686.84,312.92L688.02,313.39L689.21,313.84L690.39,314.30L691.58,314.75L692.76,315.20L693.94,315.64L695.13,316.08L696.31,316.51L697.50,316.94L698.68,317.37L699.86,317.79L701.05,318.20L702.23,318.62L703.42,319.03L704.60,319.43L705.78,319.83L706.97,320.23L708.15,320.63L709.34,321.02L710.52,321.40L711.70,321.79L712.89,322.16L714.07,322.54L715.26,322.91L716.44,323.28L717.62,323.64L718.81,324.00L719.99,324.36L721.18,324.72L722.36,325.07L723.54,325.41L724.73,325.76L725.91,326.10L727.10,326.44L728.28,326.77L729.46,327.10L730.65,327.43L731.83,327.75L733.02,328.08L734.20,328.39L735.38,328.71L736.57,329.02L737.75,329.33L738.94,329.64L740.12,329.94L741.30,330.24L742.49,330.54L743.67,330.83L744.86,331.13L746.04,331.42L747.22,331.70L748.41,331.99L749.59,332.27L750.78,332.55L751.96,332.82L753.14,333.10L754.33,333.37L755.51,333.64L756.70,333.90L757.88,334.17L759.06,334.43L760.25,334.68L761.43,334.94L762.62,335.19L763.80,335.45" fill="none" stroke="#0000ff" stroke-width="2.00" stroke-linejoin="round" transform="scale(1 1.35)"/>
<text x="720.3" y="32.71" transform="scale(1 1.07)" text-anchor="end" class="lt">SI, NH, <tspan class="gk" textLength="13.2" lengthAdjust="spacingAndGlyphs">δ</tspan><tspan class="sb" dy="6.07">CP</tspan><tspan dy="-6.07">=-90</tspan><tspan class="sp" dy="-9.91">o</tspan></text><line x1="734.2" y1="26.8" x2="796.2" y2="26.8" stroke="#0000ff" stroke-width="2"/>
<path d="M469.40,373.33L469.51,5.93M471.94,5.93L471.94,22.30L471.96,5.93M472.32,5.93L472.42,96.89L472.45,5.93M472.75,5.93L472.77,75.80L472.89,173.51L472.99,5.93M473.28,5.93L473.36,169.06L473.48,233.16L473.60,107.14L473.68,5.93M473.91,5.93L473.96,52.19L474.08,207.09L474.19,284.24L474.31,246.64L474.43,139.88L474.55,43.56L474.67,16.26L474.79,68.08L474.90,166.80L475.02,263.37L475.14,318.32L475.26,316.59L475.38,268.22L475.50,198.88L475.61,137.20L475.73,104.27L475.85,108.52L475.97,145.83L476.09,203.33L476.21,264.84L476.32,315.67L476.44,346.04L476.56,352.32L476.68,336.61L476.80,305.20L476.92,266.44L477.04,228.76L477.15,199.12L477.27,182.04L477.39,179.35L477.51,190.38L477.63,212.53L477.75,241.98L477.86,274.50L477.98,306.01L478.10,333.14L478.22,353.47L478.34,365.67L478.46,369.46L478.57,365.47L478.69,354.99L478.81,339.75L478.93,321.70L479.05,302.76L479.17,284.69L479.28,268.93L479.40,256.57L479.52,248.31L479.64,244.43L479.76,244.90L479.88,249.39L480.00,257.34L480.11,268.04L480.23,280.70L480.35,294.51L480.47,308.68L480.59,322.50L480.71,335.35L480.82,346.73L480.94,356.28L481.06,363.74L481.18,369.01L481.30,372.06L481.42,372.99L481.53,371.96L481.65,369.18L481.77,364.93L481.89,359.50L482.01,353.19L482.13,346.31L482.24,339.15L482.36,331.99L482.48,325.05L482.60,318.55L482.72,312.67L482.84,307.54L482.96,303.25L483.07,299.89L483.19,297.47L483.31,296.01L483.43,295.47L483.55,295.83L483.67,297.01L483.78,298.94L483.90,301.54L484.02,304.69L484.14,308.32L484.26,312.31L484.38,316.57L484.49,321.00L484.61,325.51L484.73,330.01L484.85,334.43L484.97,338.70L485.09,342.76L485.20,346.56L485.32,350.05L485.44,353.20L485.56,355.99L485.68,358.39L485.80,360.41L485.92,362.03L486.03,363.26L486.15,364.12L486.27,364.60L486.39,364.74L486.51,364.55L486.63,364.06L486.74,363.29L486.86,362.28L486.98,361.04L487.10,359.62L487.22,358.04L487.34,356.33L487.45,354.51L487.57,352.63L487.69,350.69L487.81,348.73L487.93,346.78L488.05,344.85L488.16,342.95L488.28,341.12L488.40,339.37L488.52,337.71L488.64,336.15L488.76,334.70L488.88,333.38L488.99,332.18L489.11,331.12L489.23,330.19L489.35,329.40L489.47,328.76L489.59,328.25L489.70,327.88L489.82,327.64L489.94,327.53L490.06,327.55L490.18,327.70L490.30,327.95L490.41,328.32L490.53,328.78L490.65,329.35L490.77,329.99L490.89,330.72L491.01,331.52L491.12,332.38L491.24,333.30L491.36,334.27L491.48,335.28L491.60,336.32L491.72,337.38L491.84,338.46L491.95,339.56L492.07,340.66L492.19,341.76L492.31,342.85L492.43,343.93L492.55,344.99L492.66,346.03L492.78,347.04L492.90,348.02L493.02,348.97L493.14,349.87L493.26,350.73L493.37,351.55L493.49,352.32L493.61,353.05L493.73,353.72L493.85,354.34L493.97,354.90L494.08,355.41L494.20,355.87L494.32,356.27L494.44,356.61L494.56,356.90L494.68,357.13L494.80,357.31L494.91,357.43L495.03,357.50L495.15,357.52L495.27,357.49L495.39,357.41L495.51,357.28L495.62,357.10L495.74,356.88L495.86,356.61L495.98,356.30L496.10,355.95L496.22,355.57L496.33,355.15L496.45,354.69L496.57,354.20L496.69,353.69L496.81,353.14L496.93,352.57L497.04,351.97L497.16,351.35L497.28,350.72L497.40,350.06L497.52,349.39L497.64,348.70L497.76,348.01L497.87,347.30L497.99,346.58L498.11,345.86L498.23,345.13L498.35,344.40L498.47,343.66L498.58,342.93L498.70,342.20L498.82,341.47L498.94,340.74L499.06,340.02L499.18,339.31L499.29,338.60L499.41,337.91L499.53,337.22L499.65,336.55L499.77,335.88L499.89,335.24L500.00,334.60L500.12,333.98L500.24,333.38L500.36,332.79L500.48,332.22L500.60,331.67L500.72,331.13L500.83,330.62L500.95,330.12L501.07,329.65L501.19,329.19L501.31,328.76L501.43,328.34L501.54,327.95L501.66,327.58L501.78,327.23L501.90,326.90L502.02,326.59L502.14,326.30L502.25,326.04L502.37,325.80L502.49,325.57L502.61,325.37L502.73,325.20L502.85,325.04L502.96,324.90L503.08,324.79L503.20,324.69L503.32,324.62L503.44,324.57L503.56,324.54L503.68,324.52L503.79,324.53L503.91,324.55L504.03,324.60L504.15,324.66L504.27,324.74L504.39,324.84L504.50,324.96L504.62,325.09L504.74,325.24L504.86,325.41L504.98,325.59L505.10,325.79L505.21,326.00L505.33,326.23L505.45,326.47L505.57,326.73L505.69,327.00L505.81,327.28L505.92,327.58L506.04,327.88L506.16,328.20L506.28,328.53L506.40,328.88L506.52,329.23L506.64,329.59L506.75,329.96L506.87,330.34L506.99,330.73L507.11,331.13L507.23,331.53L507.35,331.95L507.46,332.37L507.58,332.79L507.70,333.23L507.82,333.67L507.94,334.11L508.06,334.56L508.17,335.02L508.29,335.48L508.41,335.94L508.53,336.41L508.65,336.88L508.77,337.35L508.88,337.83L509.00,338.30L509.12,338.79L509.24,339.27L509.36,339.75L509.48,340.24L509.60,340.72L509.71,341.21L509.83,341.69L509.95,342.18L510.07,342.67L510.19,343.15L510.31,343.64L510.42,344.12L510.54,344.60L510.66,345.08L510.78,345.56L510.90,346.04L511.02,346.51L511.13,346.99L511.25,347.45L511.37,347.92L511.49,348.38L511.61,348.85L511.73,349.30L511.84,349.76L511.96,350.21L512.08,350.65L512.20,351.09L512.32,351.53L512.44,351.96L512.56,352.39L512.67,352.82L512.79,353.24L512.91,353.65L513.03,354.06L513.15,354.46L513.27,354.86L513.38,355.26L513.50,355.64L513.62,356.03L513.74,356.41L513.86,356.78L513.98,357.14L514.09,357.50L514.21,357.86L514.33,358.21L514.45,358.55L514.57,358.88L514.69,359.21L514.80,359.54L514.92,359.86L515.04,360.17L515.16,360.47L515.28,360.77L515.40,361.07L515.52,361.35L515.63,361.63L515.75,361.91L515.87,362.17L515.99,362.43L516.11,362.69L516.23,362.93L516.34,363.18L516.46,363.41L516.58,363.64L516.70,363.86L516.82,364.08L516.94,364.29L517.05,364.49L517.17,364.68L517.29,364.87L517.41,365.06L517.53,365.24L517.65,365.41L517.76,365.57L517.88,365.73L518.00,365.88L518.12,366.03L518.24,366.16L518.36,366.30L518.48,366.42L518.59,366.55L518.71,366.66L518.83,366.77L518.95,366.87L519.07,366.97L519.19,367.06L519.30,367.14L519.42,367.22L519.54,367.30L519.66,367.36L519.78,367.42L519.90,367.48L520.01,367.53L520.13,367.58L520.25,367.61L520.37,367.65L520.49,367.68L520.61,367.70L520.72,367.72L520.84,367.73L520.96,367.74L521.08,367.74L522.26,367.48L523.45,366.77L524.63,365.66L525.82,364.21L527.00,362.47L528.18,360.49L529.37,358.32L530.55,356.00L531.74,353.58L532.92,351.07L534.10,348.53L535.29,345.97L536.47,343.41L537.66,340.88L538.84,338.39L540.02,335.95L541.21,333.59L542.39,331.30L543.58,329.09L544.76,326.97L545.94,324.94L547.13,323.01L548.31,321.17L549.50,319.44L550.68,317.80L551.86,316.26L553.05,314.81L554.23,313.46L555.42,312.20L556.60,311.03L557.78,309.95L558.97,308.95L560.15,308.03L561.34,307.19L562.52,306.43L563.70,305.74L564.89,305.12L566.07,304.56L567.26,304.07L568.44,303.64L569.62,303.26L570.81,302.94L571.99,302.67L573.18,302.45L574.36,302.27L575.54,302.14L576.73,302.05L577.91,302.00L579.10,301.99L580.28,302.01L581.46,302.06L582.65,302.14L583.83,302.26L585.02,302.40L586.20,302.56L587.38,302.75L588.57,302.96L589.75,303.19L590.94,303.44L592.12,303.71L593.30,303.99L594.49,304.29L595.67,304.61L596.86,304.94L598.04,305.28L599.22,305.63L600.41,305.99L601.59,306.36L602.78,306.74L603.96,307.13L605.14,307.53L606.33,307.93L607.51,308.34L608.70,308.75L609.88,309.17L611.06,309.59L612.25,310.02L613.43,310.45L614.62,310.88L615.80,311.32L616.98,311.76L618.17,312.19L619.35,312.63L620.54,313.08L621.72,313.52L622.90,313.96L624.09,314.40L625.27,314.84L626.46,315.28L627.64,315.72L628.82,316.16L630.01,316.60L631.19,317.04L632.38,317.47L633.56,317.91L634.74,318.34L635.93,318.77L637.11,319.20L638.30,319.63L639.48,320.05L640.66,320.47L641.85,320.89L643.03,321.31L644.22,321.72L645.40,322.14L646.58,322.55L647.77,322.95L648.95,323.36L650.14,323.76L651.32,324.15L652.50,324.55L653.69,324.94L654.87,325.33L656.06,325.71L657.24,326.10L658.42,326.48L659.61,326.85L660.79,327.22L661.98,327.59L663.16,327.96L664.34,328.33L665.53,328.69L666.71,329.04L667.90,329.40L669.08,329.75L670.26,330.10L671.45,330.44L672.63,330.78L673.82,331.12L675.00,331.46L676.18,331.79L677.37,332.12L678.55,332.44L679.74,332.77L680.92,333.08L682.10,333.40L683.29,333.72L684.47,334.03L685.66,334.33L686.84,334.64L688.02,334.94L689.21,335.24L690.39,335.54L691.58,335.83L692.76,336.12L693.94,336.41L695.13,336.69L696.31,336.97L697.50,337.25L698.68,337.53L699.86,337.80L701.05,338.07L702.23,338.34L703.42,338.61L704.60,338.87L705.78,339.13L706.97,339.39L708.15,339.64L709.34,339.90L710.52,340.15L711.70,340.39L712.89,340.64L714.07,340.88L715.26,341.12L716.44,341.36L717.62,341.60L718.81,341.83L719.99,342.06L721.18,342.29L722.36,342.52L723.54,342.74L724.73,342.96L725.91,343.19L727.10,343.40L728.28,343.62L729.46,343.83L730.65,344.04L731.83,344.25L733.02,344.46L734.20,344.67L735.38,344.87L736.57,345.07L737.75,345.27L738.94,345.47L740.12,345.66L741.30,345.86L742.49,346.05L743.67,346.24L744.86,346.43L746.04,346.62L747.22,346.80L748.41,346.98L749.59,347.16L750.78,347.34L751.96,347.52L753.14,347.70L754.33,347.87L755.51,348.04L756.70,348.22L757.88,348.39L759.06,348.55L760.25,348.72L761.43,348.88L762.62,349.05L763.80,349.21" fill="none" stroke="#0000ff" stroke-width="1.90" stroke-dasharray="6.8 5.8" stroke-linejoin="round" transform="scale(1 1.35)"/>
<text x="720.3" y="53.83" transform="scale(1 1.07)" text-anchor="end" class="lt"><tspan class="ga" textLength="14.8" lengthAdjust="spacingAndGlyphs">α</tspan><tspan class="sb" dy="6.07">00</tspan><tspan dy="-6.07" letter-spacing=".3">=0.79</tspan>, NH, <tspan class="gk" textLength="13.2" lengthAdjust="spacingAndGlyphs">δ</tspan><tspan class="sb" dy="6.07">CP</tspan><tspan dy="-6.07">=-90</tspan><tspan class="sp" dy="-9.91">o</tspan></text><line x1="734.2" y1="49.4" x2="796.2" y2="49.4" stroke="#0000ff" stroke-width="2" stroke-dasharray="8 10.8"/>
<path d="M469.40,369.66L469.58,322.19L469.66,5.93M469.76,5.93L469.81,115.33L469.83,5.93M475.77,5.93L475.85,57.69L475.97,33.08L476.00,5.93M477.22,5.93L477.27,52.82L477.39,119.92L477.51,143.95L477.63,126.11L477.75,73.16L477.85,5.93M479.35,5.93L479.40,39.34L479.52,103.39L479.64,155.08L479.76,192.21L479.88,213.77L480.00,219.78L480.11,211.19L480.23,189.67L480.35,157.45L480.47,117.07L480.59,71.26L480.71,22.71L480.75,5.93M482.70,5.93L482.72,10.38L482.84,48.98L482.96,86.51L483.07,122.16L483.19,155.26L483.31,185.24L483.43,211.65L483.55,234.16L483.67,252.55L483.78,266.71L483.90,276.63L484.02,282.36L484.14,284.05L484.26,281.93L484.38,276.24L484.49,267.31L484.61,255.48L484.73,241.11L484.85,224.58L484.97,206.28L485.09,186.59L485.20,165.91L485.32,144.58L485.44,122.96L485.56,101.38L485.68,80.13L485.80,59.50L485.92,39.74L486.03,21.05L486.14,5.93M488.59,5.93L488.64,11.47L488.76,25.26L488.88,39.50L488.99,54.10L489.11,68.95L489.23,83.95L489.35,99.01L489.47,114.05L489.59,128.97L489.70,143.70L489.82,158.18L489.94,172.33L490.06,186.09L490.18,199.41L490.30,212.24L490.41,224.54L490.53,236.26L490.65,247.38L490.77,257.87L490.89,267.70L491.01,276.86L491.12,285.33L491.24,293.10L491.36,300.17L491.48,306.54L491.60,312.19L491.72,317.15L491.84,321.42L491.95,325.00L492.07,327.92L492.19,330.18L492.31,331.80L492.43,332.81L492.55,333.22L492.66,333.05L492.78,332.32L492.90,331.07L493.02,329.31L493.14,327.07L493.26,324.38L493.37,321.26L493.49,317.74L493.61,313.84L493.73,309.60L493.85,305.04L493.97,300.18L494.08,295.05L494.20,289.68L494.32,284.09L494.44,278.30L494.56,272.34L494.68,266.23L494.80,260.00L494.91,253.67L495.03,247.24L495.15,240.76L495.27,234.23L495.39,227.67L495.51,221.11L495.62,214.55L495.74,208.02L495.86,201.52L495.98,195.07L496.10,188.69L496.22,182.38L496.33,176.17L496.45,170.05L496.57,164.04L496.69,158.15L496.81,152.38L496.93,146.75L497.04,141.26L497.16,135.92L497.28,130.73L497.40,125.70L497.52,120.83L497.64,116.14L497.76,111.61L497.87,107.26L497.99,103.08L498.11,99.09L498.23,95.28L498.35,91.65L498.47,88.21L498.58,84.96L498.70,81.89L498.82,79.01L498.94,76.32L499.06,73.81L499.18,71.49L499.29,69.36L499.41,67.41L499.53,65.65L499.65,64.07L499.77,62.67L499.89,61.45L500.00,60.41L500.12,59.55L500.24,58.85L500.36,58.33L500.48,57.98L500.60,57.79L500.72,57.76L500.83,57.89L500.95,58.18L501.07,58.62L501.19,59.22L501.31,59.95L501.43,60.83L501.54,61.85L501.66,63.00L501.78,64.29L501.90,65.70L502.02,67.23L502.14,68.89L502.25,70.66L502.37,72.54L502.49,74.53L502.61,76.62L502.73,78.81L502.85,81.09L502.96,83.47L503.08,85.93L503.20,88.48L503.32,91.10L503.44,93.80L503.56,96.57L503.68,99.41L503.79,102.31L503.91,105.27L504.03,108.29L504.15,111.36L504.27,114.47L504.39,117.64L504.50,120.84L504.62,124.08L504.74,127.36L504.86,130.67L504.98,134.01L505.10,137.37L505.21,140.75L505.33,144.16L505.45,147.58L505.57,151.02L505.69,154.47L505.81,157.93L505.92,161.39L506.04,164.86L506.16,168.33L506.28,171.80L506.40,175.27L506.52,178.73L506.64,182.19L506.75,185.63L506.87,189.07L506.99,192.49L507.11,195.91L507.23,199.30L507.35,202.68L507.46,206.04L507.58,209.37L507.70,212.69L507.82,215.99L507.94,219.25L508.06,222.50L508.17,225.71L508.29,228.90L508.41,232.06L508.53,235.19L508.65,238.29L508.77,241.36L508.88,244.40L509.00,247.40L509.12,250.36L509.24,253.30L509.36,256.19L509.48,259.05L509.60,261.87L509.71,264.66L509.83,267.41L509.95,270.12L510.07,272.79L510.19,275.42L510.31,278.01L510.42,280.56L510.54,283.08L510.66,285.55L510.78,287.98L510.90,290.37L511.02,292.72L511.13,295.02L511.25,297.29L511.37,299.51L511.49,301.70L511.61,303.84L511.73,305.94L511.84,307.99L511.96,310.01L512.08,311.99L512.20,313.92L512.32,315.81L512.44,317.66L512.56,319.47L512.67,321.24L512.79,322.97L512.91,324.65L513.03,326.30L513.15,327.91L513.27,329.47L513.38,331.00L513.50,332.48L513.62,333.93L513.74,335.34L513.86,336.71L513.98,338.04L514.09,339.33L514.21,340.58L514.33,341.80L514.45,342.97L514.57,344.11L514.69,345.22L514.80,346.29L514.92,347.32L515.04,348.31L515.16,349.27L515.28,350.20L515.40,351.09L515.52,351.95L515.63,352.77L515.75,353.56L515.87,354.32L515.99,355.04L516.11,355.73L516.23,356.39L516.34,357.01L516.46,357.61L516.58,358.17L516.70,358.71L516.82,359.21L516.94,359.69L517.05,360.13L517.17,360.55L517.29,360.94L517.41,361.30L517.53,361.63L517.65,361.94L517.76,362.22L517.88,362.47L518.00,362.69L518.12,362.89L518.24,363.07L518.36,363.22L518.48,363.35L518.59,363.45L518.71,363.53L518.83,363.58L518.95,363.61L519.07,363.62L519.19,363.61L519.30,363.58L519.42,363.52L519.54,363.44L519.66,363.35L519.78,363.23L519.90,363.09L520.01,362.93L520.13,362.76L520.25,362.56L520.37,362.35L520.49,362.12L520.61,361.87L520.72,361.60L520.84,361.32L520.96,361.02L521.08,360.70L522.26,356.78L523.45,351.53L524.63,345.28L525.82,338.27L527.00,330.73L528.18,322.83L529.37,314.74L530.55,306.58L531.74,298.45L532.92,290.46L534.10,282.66L535.29,275.12L536.47,267.87L537.66,260.95L538.84,254.38L540.02,248.18L541.21,242.35L542.39,236.89L543.58,231.81L544.76,227.10L545.94,222.75L547.13,218.76L548.31,215.11L549.50,211.78L550.68,208.78L551.86,206.08L553.05,203.66L554.23,201.52L555.42,199.64L556.60,198.01L557.78,196.60L558.97,195.42L560.15,194.44L561.34,193.66L562.52,193.05L563.70,192.61L564.89,192.33L566.07,192.20L567.26,192.21L568.44,192.34L569.62,192.59L570.81,192.95L571.99,193.41L573.18,193.96L574.36,194.60L575.54,195.32L576.73,196.12L577.91,196.98L579.10,197.90L580.28,198.88L581.46,199.91L582.65,200.98L583.83,202.10L585.02,203.25L586.20,204.44L587.38,205.66L588.57,206.91L589.75,208.18L590.94,209.47L592.12,210.78L593.30,212.11L594.49,213.45L595.67,214.80L596.86,216.17L598.04,217.53L599.22,218.91L600.41,220.29L601.59,221.67L602.78,223.06L603.96,224.44L605.14,225.82L606.33,227.20L607.51,228.58L608.70,229.95L609.88,231.32L611.06,232.68L612.25,234.04L613.43,235.39L614.62,236.73L615.80,238.06L616.98,239.39L618.17,240.70L619.35,242.01L620.54,243.30L621.72,244.59L622.90,245.86L624.09,247.13L625.27,248.38L626.46,249.62L627.64,250.85L628.82,252.07L630.01,253.27L631.19,254.47L632.38,255.65L633.56,256.82L634.74,257.98L635.93,259.13L637.11,260.26L638.30,261.38L639.48,262.49L640.66,263.59L641.85,264.67L643.03,265.75L644.22,266.81L645.40,267.85L646.58,268.89L647.77,269.92L648.95,270.93L650.14,271.93L651.32,272.92L652.50,273.90L653.69,274.86L654.87,275.82L656.06,276.76L657.24,277.70L658.42,278.62L659.61,279.53L660.79,280.43L661.98,281.31L663.16,282.19L664.34,283.06L665.53,283.92L666.71,284.76L667.90,285.60L669.08,286.42L670.26,287.24L671.45,288.05L672.63,288.84L673.82,289.63L675.00,290.40L676.18,291.17L677.37,291.93L678.55,292.68L679.74,293.42L680.92,294.15L682.10,294.87L683.29,295.58L684.47,296.29L685.66,296.98L686.84,297.67L688.02,298.35L689.21,299.02L690.39,299.69L691.58,300.34L692.76,300.99L693.94,301.63L695.13,302.26L696.31,302.88L697.50,303.50L698.68,304.11L699.86,304.71L701.05,305.30L702.23,305.89L703.42,306.47L704.60,307.05L705.78,307.61L706.97,308.17L708.15,308.73L709.34,309.28L710.52,309.82L711.70,310.35L712.89,310.88L714.07,311.40L715.26,311.92L716.44,312.43L717.62,312.93L718.81,313.43L719.99,313.92L721.18,314.41L722.36,314.89L723.54,315.37L724.73,315.84L725.91,316.30L727.10,316.76L728.28,317.22L729.46,317.67L730.65,318.11L731.83,318.55L733.02,318.98L734.20,319.41L735.38,319.84L736.57,320.26L737.75,320.67L738.94,321.09L740.12,321.49L741.30,321.89L742.49,322.29L743.67,322.68L744.86,323.07L746.04,323.46L747.22,323.84L748.41,324.21L749.59,324.59L750.78,324.95L751.96,325.32L753.14,325.68L754.33,326.04L755.51,326.39L756.70,326.74L757.88,327.08L759.06,327.42L760.25,327.76L761.43,328.10L762.62,328.43L763.80,328.75" fill="none" stroke="#ff0000" stroke-width="2.35" stroke-linejoin="round" transform="scale(1 1.35)"/>
<text x="720.3" y="75.05" transform="scale(1 1.07)" text-anchor="end" class="lt">SI, NH, <tspan class="gk" textLength="13.2" lengthAdjust="spacingAndGlyphs">δ</tspan><tspan class="sb" dy="6.07">CP</tspan><tspan dy="-6.07">=90</tspan><tspan class="sp" dy="-9.91">o</tspan></text><line x1="734.2" y1="72.0" x2="796.2" y2="72.0" stroke="#ff0000" stroke-width="2"/>
<path d="M469.40,369.66L469.58,338.07L469.69,29.20L469.81,193.32L469.86,5.93M473.78,5.93L473.84,62.20L473.90,5.93M474.55,5.93L474.67,110.48L474.79,91.31L474.87,5.93M475.59,5.93L475.61,32.76L475.73,131.64L475.85,172.96L475.97,152.21L476.09,82.89L476.19,5.93M477.00,5.93L477.04,32.16L477.15,112.54L477.27,176.15L477.39,215.30L477.51,226.95L477.63,212.39L477.75,176.31L477.86,125.64L477.98,68.25L478.10,11.84L478.12,5.93M478.99,5.93L479.05,26.32L479.17,75.42L479.28,124.34L479.40,169.77L479.52,208.99L479.64,240.01L479.76,261.57L479.88,273.16L480.00,274.92L480.11,267.59L480.23,252.30L480.35,230.54L480.47,203.98L480.59,174.36L480.71,143.40L480.82,112.72L480.94,83.75L481.06,57.73L481.18,35.64L481.30,18.20L481.42,5.93M481.84,5.93L481.89,9.06L482.01,21.67L482.13,37.99L482.24,57.37L482.36,79.11L482.48,102.51L482.60,126.88L482.72,151.55L482.84,175.91L482.96,199.40L483.07,221.55L483.19,241.92L483.31,260.19L483.43,276.09L483.55,289.44L483.67,300.13L483.78,308.09L483.90,313.34L484.02,315.95L484.14,316.03L484.26,313.73L484.38,309.22L484.49,302.73L484.61,294.47L484.73,284.69L484.85,273.64L484.97,261.56L485.09,248.71L485.20,235.32L485.32,221.62L485.44,207.84L485.56,194.17L485.68,180.81L485.80,167.92L485.92,155.66L486.03,144.15L486.15,133.51L486.27,123.84L486.39,115.22L486.51,107.69L486.63,101.30L486.74,96.08L486.86,92.04L486.98,89.18L487.10,87.48L487.22,86.92L487.34,87.46L487.45,89.06L487.57,91.67L487.69,95.22L487.81,99.67L487.93,104.94L488.05,110.95L488.16,117.65L488.28,124.96L488.40,132.80L488.52,141.10L488.64,149.79L488.76,158.80L488.88,168.05L488.99,177.49L489.11,187.05L489.23,196.66L489.35,206.27L489.47,215.82L489.59,225.26L489.70,234.55L489.82,243.64L489.94,252.49L490.06,261.06L490.18,269.32L490.30,277.25L490.41,284.81L490.53,291.99L490.65,298.76L490.77,305.11L490.89,311.03L491.01,316.51L491.12,321.54L491.24,326.11L491.36,330.23L491.48,333.90L491.60,337.11L491.72,339.87L491.84,342.19L491.95,344.08L492.07,345.54L492.19,346.59L492.31,347.23L492.43,347.49L492.55,347.37L492.66,346.89L492.78,346.07L492.90,344.91L493.02,343.44L493.14,341.67L493.26,339.63L493.37,337.32L493.49,334.76L493.61,331.98L493.73,328.98L493.85,325.79L493.97,322.42L494.08,318.89L494.20,315.21L494.32,311.40L494.44,307.48L494.56,303.46L494.68,299.36L494.80,295.18L494.91,290.95L495.03,286.68L495.15,282.37L495.27,278.05L495.39,273.72L495.51,269.40L495.62,265.09L495.74,260.81L495.86,256.56L495.98,252.36L496.10,248.21L496.22,244.12L496.33,240.10L496.45,236.16L496.57,232.30L496.69,228.53L496.81,224.85L496.93,221.27L497.04,217.79L497.16,214.42L497.28,211.16L497.40,208.02L497.52,204.99L497.64,202.09L497.76,199.31L497.87,196.65L497.99,194.12L498.11,191.72L498.23,189.45L498.35,187.30L498.47,185.29L498.58,183.40L498.70,181.65L498.82,180.02L498.94,178.53L499.06,177.16L499.18,175.92L499.29,174.80L499.41,173.81L499.53,172.95L499.65,172.20L499.77,171.58L499.89,171.07L500.00,170.68L500.12,170.40L500.24,170.24L500.36,170.18L500.48,170.23L500.60,170.39L500.72,170.65L500.83,171.01L500.95,171.46L501.07,172.01L501.19,172.65L501.31,173.38L501.43,174.20L501.54,175.10L501.66,176.08L501.78,177.14L501.90,178.28L502.02,179.49L502.14,180.77L502.25,182.11L502.37,183.52L502.49,184.99L502.61,186.52L502.73,188.11L502.85,189.75L502.96,191.44L503.08,193.18L503.20,194.97L503.32,196.80L503.44,198.67L503.56,200.58L503.68,202.53L503.79,204.51L503.91,206.52L504.03,208.57L504.15,210.64L504.27,212.73L504.39,214.85L504.50,216.99L504.62,219.15L504.74,221.32L504.86,223.52L504.98,225.72L505.10,227.94L505.21,230.16L505.33,232.40L505.45,234.64L505.57,236.88L505.69,239.13L505.81,241.38L505.92,243.63L506.04,245.88L506.16,248.12L506.28,250.37L506.40,252.60L506.52,254.84L506.64,257.06L506.75,259.27L506.87,261.48L506.99,263.67L507.11,265.85L507.23,268.02L507.35,270.18L507.46,272.32L507.58,274.44L507.70,276.55L507.82,278.64L507.94,280.71L508.06,282.77L508.17,284.80L508.29,286.81L508.41,288.81L508.53,290.78L508.65,292.73L508.77,294.66L508.88,296.56L509.00,298.44L509.12,300.30L509.24,302.13L509.36,303.94L509.48,305.73L509.60,307.49L509.71,309.22L509.83,310.93L509.95,312.61L510.07,314.26L510.19,315.89L510.31,317.49L510.42,319.07L510.54,320.62L510.66,322.14L510.78,323.63L510.90,325.10L511.02,326.54L511.13,327.95L511.25,329.33L511.37,330.69L511.49,332.02L511.61,333.32L511.73,334.60L511.84,335.84L511.96,337.06L512.08,338.26L512.20,339.42L512.32,340.56L512.44,341.67L512.56,342.76L512.67,343.81L512.79,344.84L512.91,345.85L513.03,346.83L513.15,347.78L513.27,348.70L513.38,349.60L513.50,350.48L513.62,351.32L513.74,352.15L513.86,352.95L513.98,353.72L514.09,354.47L514.21,355.19L514.33,355.89L514.45,356.57L514.57,357.22L514.69,357.85L514.80,358.45L514.92,359.03L515.04,359.59L515.16,360.13L515.28,360.64L515.40,361.13L515.52,361.60L515.63,362.05L515.75,362.48L515.87,362.89L515.99,363.27L516.11,363.64L516.23,363.98L516.34,364.31L516.46,364.61L516.58,364.89L516.70,365.16L516.82,365.41L516.94,365.64L517.05,365.85L517.17,366.04L517.29,366.21L517.41,366.37L517.53,366.51L517.65,366.63L517.76,366.73L517.88,366.82L518.00,366.90L518.12,366.95L518.24,366.99L518.36,367.02L518.48,367.03L518.59,367.02L518.71,367.00L518.83,366.97L518.95,366.92L519.07,366.86L519.19,366.78L519.30,366.69L519.42,366.59L519.54,366.48L519.66,366.35L519.78,366.21L519.90,366.05L520.01,365.89L520.13,365.71L520.25,365.52L520.37,365.33L520.49,365.12L520.61,364.89L520.72,364.66L520.84,364.42L520.96,364.17L521.08,363.91L522.26,360.79L523.45,356.90L524.63,352.42L525.82,347.51L527.00,342.31L528.18,336.93L529.37,331.47L530.55,326.00L531.74,320.60L532.92,315.32L534.10,310.20L535.29,305.26L536.47,300.55L537.66,296.06L538.84,291.83L540.02,287.84L541.21,284.11L542.39,280.64L543.58,277.42L544.76,274.45L545.94,271.72L547.13,269.22L548.31,266.95L549.50,264.90L550.68,263.06L551.86,261.42L553.05,259.96L554.23,258.69L555.42,257.58L556.60,256.63L557.78,255.83L558.97,255.17L560.15,254.64L561.34,254.23L562.52,253.95L563.70,253.76L564.89,253.68L566.07,253.69L567.26,253.79L568.44,253.97L569.62,254.22L570.81,254.54L571.99,254.93L573.18,255.37L574.36,255.86L575.54,256.41L576.73,257.00L577.91,257.63L579.10,258.30L580.28,259.00L581.46,259.73L582.65,260.50L583.83,261.28L585.02,262.09L586.20,262.92L587.38,263.77L588.57,264.63L589.75,265.51L590.94,266.39L592.12,267.29L593.30,268.20L594.49,269.11L595.67,270.03L596.86,270.96L598.04,271.89L599.22,272.82L600.41,273.75L601.59,274.68L602.78,275.61L603.96,276.54L605.14,277.47L606.33,278.40L607.51,279.32L608.70,280.24L609.88,281.15L611.06,282.06L612.25,282.97L613.43,283.87L614.62,284.76L615.80,285.65L616.98,286.53L618.17,287.40L619.35,288.27L620.54,289.13L621.72,289.98L622.90,290.82L624.09,291.66L625.27,292.49L626.46,293.31L627.64,294.12L628.82,294.92L630.01,295.72L631.19,296.51L632.38,297.29L633.56,298.06L634.74,298.82L635.93,299.57L637.11,300.32L638.30,301.06L639.48,301.79L640.66,302.51L641.85,303.22L643.03,303.92L644.22,304.62L645.40,305.31L646.58,305.99L647.77,306.66L648.95,307.32L650.14,307.98L651.32,308.63L652.50,309.27L653.69,309.90L654.87,310.52L656.06,311.14L657.24,311.75L658.42,312.35L659.61,312.95L660.79,313.53L661.98,314.11L663.16,314.68L664.34,315.25L665.53,315.81L666.71,316.36L667.90,316.91L669.08,317.44L670.26,317.98L671.45,318.50L672.63,319.02L673.82,319.53L675.00,320.04L676.18,320.54L677.37,321.03L678.55,321.52L679.74,322.00L680.92,322.47L682.10,322.94L683.29,323.40L684.47,323.86L685.66,324.31L686.84,324.76L688.02,325.20L689.21,325.64L690.39,326.07L691.58,326.49L692.76,326.91L693.94,327.33L695.13,327.74L696.31,328.14L697.50,328.54L698.68,328.94L699.86,329.33L701.05,329.71L702.23,330.09L703.42,330.47L704.60,330.84L705.78,331.21L706.97,331.57L708.15,331.93L709.34,332.28L710.52,332.63L711.70,332.98L712.89,333.32L714.07,333.66L715.26,333.99L716.44,334.32L717.62,334.65L718.81,334.97L719.99,335.29L721.18,335.60L722.36,335.91L723.54,336.22L724.73,336.52L725.91,336.83L727.10,337.12L728.28,337.42L729.46,337.71L730.65,337.99L731.83,338.28L733.02,338.56L734.20,338.83L735.38,339.11L736.57,339.38L737.75,339.65L738.94,339.91L740.12,340.17L741.30,340.43L742.49,340.69L743.67,340.94L744.86,341.19L746.04,341.44L747.22,341.69L748.41,341.93L749.59,342.17L750.78,342.41L751.96,342.64L753.14,342.87L754.33,343.10L755.51,343.33L756.70,343.55L757.88,343.78L759.06,344.00L760.25,344.21L761.43,344.43L762.62,344.64L763.80,344.85" fill="none" stroke="#ff0000" stroke-width="1.95" stroke-dasharray="6.8 5.8" stroke-linejoin="round" transform="scale(1 1.35)"/>
<text x="720.3" y="96.17" transform="scale(1 1.07)" text-anchor="end" class="lt"><tspan class="ga" textLength="14.8" lengthAdjust="spacingAndGlyphs">α</tspan><tspan class="sb" dy="6.07">00</tspan><tspan dy="-6.07" letter-spacing=".3">=0.79</tspan>, NH, <tspan class="gk" textLength="13.2" lengthAdjust="spacingAndGlyphs">δ</tspan><tspan class="sb" dy="6.07">CP</tspan><tspan dy="-6.07">=90</tspan><tspan class="sp" dy="-9.91">o</tspan></text><line x1="734.2" y1="94.6" x2="796.2" y2="94.6" stroke="#ff0000" stroke-width="2" stroke-dasharray="8 10.8"/>
<path d="M469.40,349.45L469.47,5.93M473.33,5.93L473.36,110.18L473.48,116.44L473.54,5.93M474.00,5.93L474.08,161.64L474.19,232.39L474.31,125.65L474.39,5.93M474.85,5.93L474.90,89.49L475.02,232.25L475.14,295.47L475.26,267.43L475.38,173.84L475.50,59.80L475.57,5.93M475.94,5.93L475.97,26.18L476.09,123.72L476.21,221.19L476.32,296.72L476.44,337.01L476.56,338.63L476.68,306.76L476.80,252.40L476.92,189.05L477.04,129.73L477.15,84.74L477.27,60.47L477.39,59.09L477.51,79.02L477.63,115.89L477.75,163.66L477.86,215.73L477.98,265.91L478.10,309.07L478.22,341.59L478.34,361.50L478.46,368.36L478.57,363.08L478.69,347.59L478.81,324.46L478.93,296.57L479.05,266.82L479.17,237.84L479.28,211.88L479.40,190.65L479.52,175.29L479.64,166.41L479.76,164.09L479.88,167.99L480.00,177.43L480.11,191.49L480.23,209.10L480.35,229.12L480.47,250.42L480.59,271.94L480.71,292.74L480.82,312.03L480.94,329.17L481.06,343.69L481.18,355.29L481.30,363.82L481.42,369.27L481.53,371.75L481.65,371.45L481.77,368.66L481.89,363.71L482.01,356.96L482.13,348.79L482.24,339.59L482.36,329.72L482.48,319.53L482.60,309.34L482.72,299.42L482.84,290.03L482.96,281.35L483.07,273.55L483.19,266.75L483.31,261.03L483.43,256.43L483.55,252.98L483.67,250.66L483.78,249.44L483.90,249.26L484.02,250.06L484.14,251.74L484.26,254.23L484.38,257.41L484.49,261.21L484.61,265.51L484.73,270.22L484.85,275.24L484.97,280.48L485.09,285.86L485.20,291.30L485.32,296.73L485.44,302.08L485.56,307.31L485.68,312.36L485.80,317.19L485.92,321.76L486.03,326.06L486.15,330.05L486.27,333.73L486.39,337.08L486.51,340.10L486.63,342.79L486.74,345.15L486.86,347.18L486.98,348.90L487.10,350.32L487.22,351.45L487.34,352.31L487.45,352.90L487.57,353.25L487.69,353.37L487.81,353.29L487.93,353.01L488.05,352.56L488.16,351.94L488.28,351.19L488.40,350.31L488.52,349.31L488.64,348.22L488.76,347.04L488.88,345.78L488.99,344.47L489.11,343.10L489.23,341.69L489.35,340.25L489.47,338.79L489.59,337.30L489.70,335.81L489.82,334.31L489.94,332.81L490.06,331.31L490.18,329.83L490.30,328.35L490.41,326.89L490.53,325.45L490.65,324.03L490.77,322.63L490.89,321.25L491.01,319.90L491.12,318.57L491.24,317.26L491.36,315.98L491.48,314.73L491.60,313.51L491.72,312.31L491.84,311.14L491.95,309.99L492.07,308.87L492.19,307.78L492.31,306.72L492.43,305.68L492.55,304.67L492.66,303.69L492.78,302.73L492.90,301.80L493.02,300.89L493.14,300.02L493.26,299.17L493.37,298.34L493.49,297.54L493.61,296.77L493.73,296.03L493.85,295.31L493.97,294.62L494.08,293.96L494.20,293.33L494.32,292.72L494.44,292.14L494.56,291.60L494.68,291.08L494.80,290.59L494.91,290.13L495.03,289.70L495.15,289.29L495.27,288.92L495.39,288.58L495.51,288.28L495.62,288.00L495.74,287.75L495.86,287.54L495.98,287.35L496.10,287.20L496.22,287.08L496.33,287.00L496.45,286.94L496.57,286.92L496.69,286.92L496.81,286.96L496.93,287.03L497.04,287.14L497.16,287.27L497.28,287.44L497.40,287.63L497.52,287.86L497.64,288.12L497.76,288.40L497.87,288.72L497.99,289.07L498.11,289.44L498.23,289.85L498.35,290.28L498.47,290.74L498.58,291.22L498.70,291.73L498.82,292.27L498.94,292.83L499.06,293.42L499.18,294.03L499.29,294.66L499.41,295.32L499.53,296.00L499.65,296.70L499.77,297.42L499.89,298.15L500.00,298.91L500.12,299.69L500.24,300.48L500.36,301.29L500.48,302.11L500.60,302.95L500.72,303.80L500.83,304.67L500.95,305.55L501.07,306.44L501.19,307.34L501.31,308.25L501.43,309.16L501.54,310.09L501.66,311.03L501.78,311.97L501.90,312.92L502.02,313.87L502.14,314.82L502.25,315.78L502.37,316.75L502.49,317.71L502.61,318.68L502.73,319.65L502.85,320.61L502.96,321.58L503.08,322.54L503.20,323.51L503.32,324.46L503.44,325.42L503.56,326.37L503.68,327.32L503.79,328.26L503.91,329.19L504.03,330.12L504.15,331.04L504.27,331.96L504.39,332.86L504.50,333.76L504.62,334.65L504.74,335.53L504.86,336.39L504.98,337.25L505.10,338.10L505.21,338.93L505.33,339.75L505.45,340.56L505.57,341.36L505.69,342.14L505.81,342.92L505.92,343.67L506.04,344.41L506.16,345.14L506.28,345.86L506.40,346.56L506.52,347.24L506.64,347.91L506.75,348.56L506.87,349.19L506.99,349.81L507.11,350.42L507.23,351.01L507.35,351.58L507.46,352.13L507.58,352.67L507.70,353.19L507.82,353.69L507.94,354.17L508.06,354.64L508.17,355.09L508.29,355.52L508.41,355.94L508.53,356.33L508.65,356.71L508.77,357.07L508.88,357.42L509.00,357.74L509.12,358.05L509.24,358.34L509.36,358.61L509.48,358.87L509.60,359.11L509.71,359.33L509.83,359.53L509.95,359.71L510.07,359.88L510.19,360.03L510.31,360.16L510.42,360.27L510.54,360.37L510.66,360.45L510.78,360.51L510.90,360.56L511.02,360.59L511.13,360.60L511.25,360.59L511.37,360.57L511.49,360.54L511.61,360.48L511.73,360.41L511.84,360.33L511.96,360.23L512.08,360.11L512.20,359.98L512.32,359.83L512.44,359.67L512.56,359.49L512.67,359.30L512.79,359.09L512.91,358.87L513.03,358.64L513.15,358.39L513.27,358.12L513.38,357.84L513.50,357.55L513.62,357.25L513.74,356.93L513.86,356.60L513.98,356.26L514.09,355.90L514.21,355.53L514.33,355.15L514.45,354.76L514.57,354.35L514.69,353.93L514.80,353.51L514.92,353.07L515.04,352.62L515.16,352.15L515.28,351.68L515.40,351.20L515.52,350.70L515.63,350.20L515.75,349.69L515.87,349.16L515.99,348.63L516.11,348.09L516.23,347.54L516.34,346.97L516.46,346.40L516.58,345.83L516.70,345.24L516.82,344.64L516.94,344.04L517.05,343.43L517.17,342.81L517.29,342.18L517.41,341.55L517.53,340.91L517.65,340.26L517.76,339.61L517.88,338.94L518.00,338.28L518.12,337.60L518.24,336.92L518.36,336.23L518.48,335.54L518.59,334.84L518.71,334.14L518.83,333.43L518.95,332.72L519.07,332.00L519.19,331.27L519.30,330.54L519.42,329.81L519.54,329.07L519.66,328.33L519.78,327.59L519.90,326.84L520.01,326.08L520.13,325.32L520.25,324.56L520.37,323.80L520.49,323.03L520.61,322.26L520.72,321.49L520.84,320.71L520.96,319.93L521.08,319.15L522.26,311.23L523.45,303.19L524.63,295.14L525.82,287.16L527.00,279.33L528.18,271.71L529.37,264.36L530.55,257.30L531.74,250.57L532.92,244.18L534.10,238.16L535.29,232.51L536.47,227.23L537.66,222.32L538.84,217.78L540.02,213.60L541.21,209.78L542.39,206.29L543.58,203.13L544.76,200.28L545.94,197.74L547.13,195.48L548.31,193.50L549.50,191.78L550.68,190.30L551.86,189.05L553.05,188.02L554.23,187.20L555.42,186.56L556.60,186.11L557.78,185.82L558.97,185.69L560.15,185.71L561.34,185.86L562.52,186.14L563.70,186.53L564.89,187.03L566.07,187.63L567.26,188.33L568.44,189.10L569.62,189.96L570.81,190.89L571.99,191.88L573.18,192.93L574.36,194.03L575.54,195.19L576.73,196.38L577.91,197.62L579.10,198.89L580.28,200.20L581.46,201.53L582.65,202.89L583.83,204.27L585.02,205.67L586.20,207.08L587.38,208.51L588.57,209.95L589.75,211.40L590.94,212.86L592.12,214.32L593.30,215.79L594.49,217.26L595.67,218.73L596.86,220.20L598.04,221.66L599.22,223.13L600.41,224.59L601.59,226.04L602.78,227.49L603.96,228.93L605.14,230.37L606.33,231.79L607.51,233.21L608.70,234.62L609.88,236.01L611.06,237.40L612.25,238.78L613.43,240.14L614.62,241.50L615.80,242.84L616.98,244.17L618.17,245.49L619.35,246.79L620.54,248.08L621.72,249.36L622.90,250.63L624.09,251.88L625.27,253.12L626.46,254.35L627.64,255.56L628.82,256.77L630.01,257.95L631.19,259.13L632.38,260.29L633.56,261.44L634.74,262.57L635.93,263.69L637.11,264.80L638.30,265.89L639.48,266.98L640.66,268.05L641.85,269.10L643.03,270.15L644.22,271.18L645.40,272.20L646.58,273.20L647.77,274.20L648.95,275.18L650.14,276.15L651.32,277.11L652.50,278.05L653.69,278.99L654.87,279.91L656.06,280.82L657.24,281.72L658.42,282.61L659.61,283.49L660.79,284.35L661.98,285.21L663.16,286.06L664.34,286.89L665.53,287.72L666.71,288.53L667.90,289.33L669.08,290.13L670.26,290.91L671.45,291.69L672.63,292.45L673.82,293.20L675.00,293.95L676.18,294.69L677.37,295.41L678.55,296.13L679.74,296.84L680.92,297.54L682.10,298.23L683.29,298.92L684.47,299.59L685.66,300.26L686.84,300.92L688.02,301.57L689.21,302.21L690.39,302.84L691.58,303.47L692.76,304.09L693.94,304.70L695.13,305.31L696.31,305.90L697.50,306.49L698.68,307.08L699.86,307.65L701.05,308.22L702.23,308.78L703.42,309.34L704.60,309.88L705.78,310.43L706.97,310.96L708.15,311.49L709.34,312.01L710.52,312.53L711.70,313.04L712.89,313.55L714.07,314.04L715.26,314.54L716.44,315.02L717.62,315.51L718.81,315.98L719.99,316.45L721.18,316.92L722.36,317.38L723.54,317.83L724.73,318.28L725.91,318.72L727.10,319.16L728.28,319.60L729.46,320.03L730.65,320.45L731.83,320.87L733.02,321.28L734.20,321.69L735.38,322.10L736.57,322.50L737.75,322.90L738.94,323.29L740.12,323.68L741.30,324.06L742.49,324.44L743.67,324.81L744.86,325.18L746.04,325.55L747.22,325.91L748.41,326.27L749.59,326.63L750.78,326.98L751.96,327.33L753.14,327.67L754.33,328.01L755.51,328.35L756.70,328.68L757.88,329.01L759.06,329.33L760.25,329.66L761.43,329.98L762.62,330.29L763.80,330.60" fill="none" stroke="#000000" stroke-width="2.20" stroke-linejoin="round" transform="scale(1 1.35)"/>
<text x="720.3" y="117.38" transform="scale(1 1.07)" text-anchor="end" class="lt">SI, IH, <tspan class="gk" textLength="13.2" lengthAdjust="spacingAndGlyphs">δ</tspan><tspan class="sb" dy="6.07">CP</tspan><tspan dy="-6.07">=-90</tspan><tspan class="sp" dy="-9.91">o</tspan></text><line x1="734.2" y1="117.2" x2="796.2" y2="117.2" stroke="#000000" stroke-width="2"/>
<path d="M469.40,349.45L469.50,5.93M471.94,5.93L471.94,32.56L471.95,5.93M472.29,5.93L472.30,25.16L472.42,8.36L472.42,5.93M472.74,5.93L472.77,105.81L472.89,117.42L472.94,5.93M473.27,5.93L473.36,188.75L473.48,198.13L473.60,27.29L473.62,5.93M473.91,5.93L473.96,63.95L474.08,224.65L474.19,276.56L474.31,205.63L474.43,80.10L474.53,5.93M474.70,5.93L474.79,59.71L474.90,175.09L475.02,274.28L475.14,319.51L475.26,301.95L475.38,238.66L475.50,160.41L475.61,97.74L475.73,70.77L475.85,85.14L475.97,133.45L476.09,200.08L476.21,267.18L476.32,319.62L476.44,348.09L476.56,350.04L476.68,328.87L476.80,292.01L476.92,248.72L477.04,207.93L477.15,176.78L477.27,159.72L477.39,158.31L477.51,171.56L477.63,196.51L477.75,229.05L477.86,264.65L477.98,299.06L478.10,328.76L478.22,351.24L478.34,365.10L478.46,370.04L478.57,366.65L478.69,356.25L478.81,340.58L478.93,321.61L479.05,301.33L479.17,281.55L479.28,263.81L479.40,249.28L479.52,238.76L479.64,232.66L479.76,231.04L479.88,233.67L480.00,240.09L480.11,249.66L480.23,261.66L480.35,275.30L480.47,289.81L480.59,304.46L480.71,318.62L480.82,331.74L480.94,343.39L481.06,353.24L481.18,361.10L481.30,366.86L481.42,370.51L481.53,372.15L481.65,371.90L481.77,369.95L481.89,366.55L482.01,361.93L482.13,356.36L482.24,350.10L482.36,343.40L482.48,336.51L482.60,329.63L482.72,322.96L482.84,316.65L482.96,310.85L483.07,305.65L483.19,301.15L483.31,297.38L483.43,294.39L483.55,292.17L483.67,290.72L483.78,290.02L483.90,290.01L484.02,290.66L484.14,291.91L484.26,293.68L484.38,295.92L484.49,298.56L484.61,301.52L484.73,304.74L484.85,308.15L484.97,311.70L485.09,315.33L485.20,318.98L485.32,322.61L485.44,326.17L485.56,329.63L485.68,332.96L485.80,336.13L485.92,339.12L486.03,341.90L486.15,344.48L486.27,346.84L486.39,348.97L486.51,350.88L486.63,352.56L486.74,354.02L486.86,355.27L486.98,356.30L487.10,357.14L487.22,357.78L487.34,358.25L487.45,358.55L487.57,358.69L487.69,358.69L487.81,358.56L487.93,358.31L488.05,357.95L488.16,357.50L488.28,356.96L488.40,356.35L488.52,355.67L488.64,354.94L488.76,354.16L488.88,353.35L488.99,352.50L489.11,351.63L489.23,350.73L489.35,349.83L489.47,348.92L489.59,348.00L489.70,347.09L489.82,346.18L489.94,345.27L490.06,344.37L490.18,343.49L490.30,342.61L490.41,341.75L490.53,340.90L490.65,340.07L490.77,339.26L490.89,338.46L491.01,337.67L491.12,336.91L491.24,336.16L491.36,335.42L491.48,334.70L491.60,334.00L491.72,333.31L491.84,332.64L491.95,331.98L492.07,331.34L492.19,330.71L492.31,330.09L492.43,329.48L492.55,328.89L492.66,328.31L492.78,327.74L492.90,327.19L493.02,326.65L493.14,326.11L493.26,325.59L493.37,325.09L493.49,324.59L493.61,324.10L493.73,323.63L493.85,323.17L493.97,322.72L494.08,322.29L494.20,321.86L494.32,321.45L494.44,321.06L494.56,320.68L494.68,320.31L494.80,319.95L494.91,319.61L495.03,319.29L495.15,318.98L495.27,318.68L495.39,318.41L495.51,318.15L495.62,317.90L495.74,317.68L495.86,317.47L495.98,317.27L496.10,317.10L496.22,316.95L496.33,316.81L496.45,316.69L496.57,316.59L496.69,316.51L496.81,316.45L496.93,316.41L497.04,316.39L497.16,316.39L497.28,316.40L497.40,316.44L497.52,316.50L497.64,316.58L497.76,316.67L497.87,316.79L497.99,316.92L498.11,317.08L498.23,317.25L498.35,317.45L498.47,317.66L498.58,317.89L498.70,318.14L498.82,318.40L498.94,318.69L499.06,318.99L499.18,319.31L499.29,319.64L499.41,320.00L499.53,320.36L499.65,320.75L499.77,321.15L499.89,321.56L500.00,321.99L500.12,322.43L500.24,322.89L500.36,323.35L500.48,323.83L500.60,324.33L500.72,324.83L500.83,325.35L500.95,325.87L501.07,326.41L501.19,326.95L501.31,327.51L501.43,328.07L501.54,328.64L501.66,329.21L501.78,329.80L501.90,330.39L502.02,330.99L502.14,331.59L502.25,332.19L502.37,332.80L502.49,333.42L502.61,334.04L502.73,334.66L502.85,335.28L502.96,335.90L503.08,336.53L503.20,337.15L503.32,337.78L503.44,338.41L503.56,339.03L503.68,339.66L503.79,340.28L503.91,340.90L504.03,341.52L504.15,342.14L504.27,342.75L504.39,343.36L504.50,343.97L504.62,344.57L504.74,345.17L504.86,345.76L504.98,346.35L505.10,346.93L505.21,347.51L505.33,348.08L505.45,348.64L505.57,349.19L505.69,349.74L505.81,350.28L505.92,350.82L506.04,351.34L506.16,351.86L506.28,352.37L506.40,352.87L506.52,353.36L506.64,353.84L506.75,354.32L506.87,354.78L506.99,355.24L507.11,355.68L507.23,356.11L507.35,356.54L507.46,356.95L507.58,357.36L507.70,357.75L507.82,358.13L507.94,358.50L508.06,358.86L508.17,359.22L508.29,359.55L508.41,359.88L508.53,360.20L508.65,360.50L508.77,360.80L508.88,361.08L509.00,361.35L509.12,361.61L509.24,361.86L509.36,362.10L509.48,362.33L509.60,362.54L509.71,362.75L509.83,362.94L509.95,363.12L510.07,363.29L510.19,363.44L510.31,363.59L510.42,363.73L510.54,363.85L510.66,363.96L510.78,364.06L510.90,364.15L511.02,364.23L511.13,364.30L511.25,364.35L511.37,364.40L511.49,364.43L511.61,364.46L511.73,364.47L511.84,364.47L511.96,364.46L512.08,364.45L512.20,364.42L512.32,364.38L512.44,364.33L512.56,364.27L512.67,364.20L512.79,364.12L512.91,364.03L513.03,363.93L513.15,363.82L513.27,363.70L513.38,363.57L513.50,363.43L513.62,363.28L513.74,363.13L513.86,362.96L513.98,362.79L514.09,362.61L514.21,362.41L514.33,362.21L514.45,362.00L514.57,361.79L514.69,361.56L514.80,361.33L514.92,361.09L515.04,360.84L515.16,360.58L515.28,360.32L515.40,360.04L515.52,359.76L515.63,359.48L515.75,359.18L515.87,358.88L515.99,358.58L516.11,358.26L516.23,357.94L516.34,357.61L516.46,357.28L516.58,356.94L516.70,356.59L516.82,356.24L516.94,355.88L517.05,355.52L517.17,355.15L517.29,354.77L517.41,354.39L517.53,354.00L517.65,353.61L517.76,353.21L517.88,352.81L518.00,352.41L518.12,352.00L518.24,351.58L518.36,351.16L518.48,350.73L518.59,350.31L518.71,349.87L518.83,349.43L518.95,348.99L519.07,348.55L519.19,348.10L519.30,347.65L519.42,347.19L519.54,346.73L519.66,346.27L519.78,345.80L519.90,345.33L520.01,344.86L520.13,344.39L520.25,343.91L520.37,343.43L520.49,342.94L520.61,342.46L520.72,341.97L520.84,341.48L520.96,340.99L521.08,340.49L522.26,335.44L523.45,330.26L524.63,325.03L525.82,319.81L527.00,314.66L528.18,309.61L529.37,304.71L530.55,299.98L531.74,295.45L532.92,291.13L534.10,287.03L535.29,283.17L536.47,279.54L537.66,276.15L538.84,273.00L540.02,270.09L541.21,267.40L542.39,264.94L543.58,262.69L544.76,260.66L545.94,258.82L547.13,257.18L548.31,255.72L549.50,254.43L550.68,253.31L551.86,252.34L553.05,251.53L554.23,250.85L555.42,250.30L556.60,249.88L557.78,249.57L558.97,249.37L560.15,249.27L561.34,249.27L562.52,249.35L563.70,249.51L564.89,249.75L566.07,250.06L567.26,250.44L568.44,250.87L569.62,251.36L570.81,251.90L571.99,252.48L573.18,253.11L574.36,253.78L575.54,254.48L576.73,255.22L577.91,255.98L579.10,256.78L580.28,257.59L581.46,258.43L582.65,259.28L583.83,260.16L585.02,261.04L586.20,261.94L587.38,262.86L588.57,263.78L589.75,264.71L590.94,265.64L592.12,266.59L593.30,267.53L594.49,268.48L595.67,269.43L596.86,270.39L598.04,271.34L599.22,272.29L600.41,273.24L601.59,274.19L602.78,275.13L603.96,276.08L605.14,277.02L606.33,277.95L607.51,278.88L608.70,279.80L609.88,280.72L611.06,281.63L612.25,282.54L613.43,283.44L614.62,284.33L615.80,285.21L616.98,286.09L618.17,286.96L619.35,287.83L620.54,288.68L621.72,289.53L622.90,290.37L624.09,291.20L625.27,292.02L626.46,292.83L627.64,293.64L628.82,294.44L630.01,295.22L631.19,296.01L632.38,296.78L633.56,297.54L634.74,298.30L635.93,299.04L637.11,299.78L638.30,300.51L639.48,301.23L640.66,301.95L641.85,302.65L643.03,303.35L644.22,304.04L645.40,304.72L646.58,305.39L647.77,306.05L648.95,306.71L650.14,307.36L651.32,308.00L652.50,308.63L653.69,309.26L654.87,309.88L656.06,310.49L657.24,311.09L658.42,311.69L659.61,312.28L660.79,312.86L661.98,313.43L663.16,314.00L664.34,314.56L665.53,315.11L666.71,315.66L667.90,316.20L669.08,316.74L670.26,317.26L671.45,317.78L672.63,318.30L673.82,318.80L675.00,319.31L676.18,319.80L677.37,320.29L678.55,320.77L679.74,321.25L680.92,321.72L682.10,322.19L683.29,322.65L684.47,323.11L685.66,323.55L686.84,324.00L688.02,324.44L689.21,324.87L690.39,325.30L691.58,325.72L692.76,326.14L693.94,326.55L695.13,326.96L696.31,327.36L697.50,327.76L698.68,328.15L699.86,328.54L701.05,328.93L702.23,329.31L703.42,329.68L704.60,330.05L705.78,330.42L706.97,330.78L708.15,331.14L709.34,331.49L710.52,331.84L711.70,332.19L712.89,332.53L714.07,332.87L715.26,333.20L716.44,333.53L717.62,333.85L718.81,334.18L719.99,334.50L721.18,334.81L722.36,335.12L723.54,335.43L724.73,335.73L725.91,336.03L727.10,336.33L728.28,336.63L729.46,336.92L730.65,337.20L731.83,337.49L733.02,337.77L734.20,338.05L735.38,338.32L736.57,338.59L737.75,338.86L738.94,339.13L740.12,339.39L741.30,339.65L742.49,339.91L743.67,340.16L744.86,340.42L746.04,340.66L747.22,340.91L748.41,341.15L749.59,341.40L750.78,341.63L751.96,341.87L753.14,342.10L754.33,342.33L755.51,342.56L756.70,342.79L757.88,343.01L759.06,343.23L760.25,343.45L761.43,343.67L762.62,343.88L763.80,344.10" fill="none" stroke="#000000" stroke-width="1.95" stroke-dasharray="6.8 5.8" stroke-linejoin="round" transform="scale(1 1.35)"/>
<text x="720.3" y="138.50" transform="scale(1 1.07)" text-anchor="end" class="lt"><tspan class="ga" textLength="14.8" lengthAdjust="spacingAndGlyphs">α</tspan><tspan class="sb" dy="6.07">00</tspan><tspan dy="-6.07" letter-spacing=".3">=0.83</tspan>, IH, <tspan class="gk" textLength="13.2" lengthAdjust="spacingAndGlyphs">δ</tspan><tspan class="sb" dy="6.07">CP</tspan><tspan dy="-6.07">=-90</tspan><tspan class="sp" dy="-9.91">o</tspan></text><line x1="734.2" y1="139.8" x2="796.2" y2="139.8" stroke="#000000" stroke-width="2" stroke-dasharray="8 10.8"/>
<rect x="467.8" y="8.0" width="355.2" height="496.0" fill="none" stroke="#000" stroke-width="1.7"/>
</g>
</svg>
</body></html>
